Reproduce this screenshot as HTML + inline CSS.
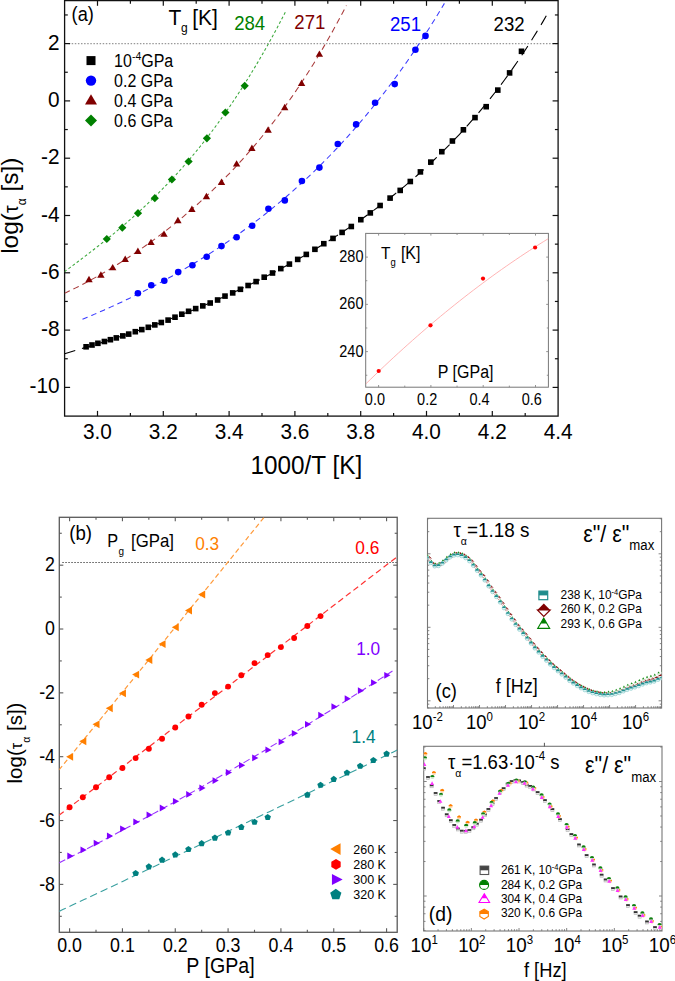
<!DOCTYPE html>
<html><head><meta charset="utf-8"><style>
html,body{margin:0;padding:0;background:#fff;}
body{width:675px;height:981px;overflow:hidden;}
svg{display:block;font-family:"Liberation Sans", sans-serif;}
</style></head><body>
<svg width="675" height="981" viewBox="0 0 675 981">
<rect width="675" height="981" fill="#fff"/>
<g>
<clipPath id="ca"><rect x="64.6" y="0.6" width="493.5" height="415.5"/></clipPath>
<line x1="68.6" y1="43.6" x2="558.1" y2="43.6" stroke="#999" stroke-width="1.4" stroke-dasharray="1.5,1.6"/>
<rect x="365.7" y="233.4" width="182.7" height="153.8" fill="#fff" stroke="#777" stroke-width="1"/>
<line x1="378.6" y1="387.2" x2="378.6" y2="385" stroke="#888" stroke-width="0.9" />
<line x1="378.6" y1="233.4" x2="378.6" y2="235.6" stroke="#888" stroke-width="0.9" />
<line x1="404.75" y1="387.2" x2="404.75" y2="385.6" stroke="#888" stroke-width="0.9" />
<line x1="404.75" y1="233.4" x2="404.75" y2="235" stroke="#888" stroke-width="0.9" />
<line x1="430.9" y1="387.2" x2="430.9" y2="385" stroke="#888" stroke-width="0.9" />
<line x1="430.9" y1="233.4" x2="430.9" y2="235.6" stroke="#888" stroke-width="0.9" />
<line x1="457.05" y1="387.2" x2="457.05" y2="385.6" stroke="#888" stroke-width="0.9" />
<line x1="457.05" y1="233.4" x2="457.05" y2="235" stroke="#888" stroke-width="0.9" />
<line x1="483.2" y1="387.2" x2="483.2" y2="385" stroke="#888" stroke-width="0.9" />
<line x1="483.2" y1="233.4" x2="483.2" y2="235.6" stroke="#888" stroke-width="0.9" />
<line x1="509.35" y1="387.2" x2="509.35" y2="385.6" stroke="#888" stroke-width="0.9" />
<line x1="509.35" y1="233.4" x2="509.35" y2="235" stroke="#888" stroke-width="0.9" />
<line x1="535.5" y1="387.2" x2="535.5" y2="385" stroke="#888" stroke-width="0.9" />
<line x1="535.5" y1="233.4" x2="535.5" y2="235.6" stroke="#888" stroke-width="0.9" />
<line x1="365.7" y1="375.25" x2="367.3" y2="375.25" stroke="#888" stroke-width="0.9" />
<line x1="548.4" y1="375.25" x2="546.8" y2="375.25" stroke="#888" stroke-width="0.9" />
<line x1="365.7" y1="351.62" x2="367.9" y2="351.62" stroke="#888" stroke-width="0.9" />
<line x1="548.4" y1="351.62" x2="546.2" y2="351.62" stroke="#888" stroke-width="0.9" />
<line x1="365.7" y1="327.99" x2="367.3" y2="327.99" stroke="#888" stroke-width="0.9" />
<line x1="548.4" y1="327.99" x2="546.8" y2="327.99" stroke="#888" stroke-width="0.9" />
<line x1="365.7" y1="304.36" x2="367.9" y2="304.36" stroke="#888" stroke-width="0.9" />
<line x1="548.4" y1="304.36" x2="546.2" y2="304.36" stroke="#888" stroke-width="0.9" />
<line x1="365.7" y1="280.73" x2="367.3" y2="280.73" stroke="#888" stroke-width="0.9" />
<line x1="548.4" y1="280.73" x2="546.8" y2="280.73" stroke="#888" stroke-width="0.9" />
<line x1="365.7" y1="257.1" x2="367.9" y2="257.1" stroke="#888" stroke-width="0.9" />
<line x1="548.4" y1="257.1" x2="546.2" y2="257.1" stroke="#888" stroke-width="0.9" />
<line x1="365.7" y1="233.47" x2="367.3" y2="233.47" stroke="#888" stroke-width="0.9" />
<line x1="548.4" y1="233.47" x2="546.8" y2="233.47" stroke="#888" stroke-width="0.9" />
<text x="374.9" y="371.56" transform="scale(1,1.09)" font-size="14.5" fill="#000" text-anchor="middle" >0.0</text>
<text x="427.2" y="371.56" transform="scale(1,1.09)" font-size="14.5" fill="#000" text-anchor="middle" >0.2</text>
<text x="479.5" y="371.56" transform="scale(1,1.09)" font-size="14.5" fill="#000" text-anchor="middle" >0.4</text>
<text x="531.8" y="371.56" transform="scale(1,1.09)" font-size="14.5" fill="#000" text-anchor="middle" >0.6</text>
<text x="363.5" y="327.27" transform="scale(1,1.09)" font-size="14.5" fill="#000" text-anchor="end" >240</text>
<text x="363.5" y="283.91" transform="scale(1,1.09)" font-size="14.5" fill="#000" text-anchor="end" >260</text>
<text x="363.5" y="240.55" transform="scale(1,1.09)" font-size="14.5" fill="#000" text-anchor="end" >280</text>
<g clip-path="url(#ci)">
<clipPath id="ci"><rect x="365.7" y="233.4" width="182.7" height="153.8"/></clipPath>
<path d="M365.7,384 L370.38,379.44 L375.07,374.92 L379.75,370.44 L384.44,366.01 L389.12,361.62 L393.81,357.28 L398.49,352.98 L403.18,348.72 L407.86,344.51 L412.55,340.34 L417.23,336.22 L421.92,332.14 L426.6,328.1 L431.28,324.11 L435.97,320.16 L440.65,316.26 L445.34,312.4 L450.02,308.58 L454.71,304.81 L459.39,301.08 L464.08,297.4 L468.76,293.76 L473.45,290.16 L478.13,286.61 L482.82,283.1 L487.5,279.63 L492.18,276.21 L496.87,272.84 L501.55,269.51 L506.24,266.22 L510.92,262.97 L515.61,259.77 L520.29,256.62 L524.98,253.5 L529.66,250.43 L534.35,247.41 L539.03,244.43 L543.72,241.49 L548.4,238.6" fill="none" stroke="#ffacac" stroke-width="0.9" />
</g>
<circle cx="378.7" cy="371" r="2.1" fill="#f00"/>
<circle cx="430.5" cy="325.3" r="2.1" fill="#f00"/>
<circle cx="483" cy="278.6" r="2.1" fill="#f00"/>
<circle cx="535.1" cy="247.5" r="2.1" fill="#f00"/>
<text x="381" y="237.43" transform="scale(1,1.09)" font-size="15.5" fill="#000" text-anchor="start" >T</text>
<text x="390.4" y="243.85" transform="scale(1,1.09)" font-size="9.5" fill="#000" text-anchor="start" >g</text>
<text x="400.9" y="237.43" transform="scale(1,1.09)" font-size="16" fill="#000" text-anchor="start" >[K]</text>
<text x="437.8" y="346.42" transform="scale(1,1.09)" font-size="16" fill="#000" text-anchor="start" >P [GPa]</text>
<rect x="64.6" y="0.6" width="493.5" height="415.5" fill="none" stroke="#111" stroke-width="1.3"/>
<line x1="97.5" y1="416.1" x2="97.5" y2="410.9" stroke="#111" stroke-width="1.2" />
<line x1="97.5" y1="0.6" x2="97.5" y2="5.8" stroke="#111" stroke-width="1.2" />
<line x1="130.4" y1="416.1" x2="130.4" y2="412.9" stroke="#111" stroke-width="1.2" />
<line x1="130.4" y1="0.6" x2="130.4" y2="3.8" stroke="#111" stroke-width="1.2" />
<line x1="163.3" y1="416.1" x2="163.3" y2="410.9" stroke="#111" stroke-width="1.2" />
<line x1="163.3" y1="0.6" x2="163.3" y2="5.8" stroke="#111" stroke-width="1.2" />
<line x1="196.2" y1="416.1" x2="196.2" y2="412.9" stroke="#111" stroke-width="1.2" />
<line x1="196.2" y1="0.6" x2="196.2" y2="3.8" stroke="#111" stroke-width="1.2" />
<line x1="229.1" y1="416.1" x2="229.1" y2="410.9" stroke="#111" stroke-width="1.2" />
<line x1="229.1" y1="0.6" x2="229.1" y2="5.8" stroke="#111" stroke-width="1.2" />
<line x1="262" y1="416.1" x2="262" y2="412.9" stroke="#111" stroke-width="1.2" />
<line x1="262" y1="0.6" x2="262" y2="3.8" stroke="#111" stroke-width="1.2" />
<line x1="294.9" y1="416.1" x2="294.9" y2="410.9" stroke="#111" stroke-width="1.2" />
<line x1="294.9" y1="0.6" x2="294.9" y2="5.8" stroke="#111" stroke-width="1.2" />
<line x1="327.8" y1="416.1" x2="327.8" y2="412.9" stroke="#111" stroke-width="1.2" />
<line x1="327.8" y1="0.6" x2="327.8" y2="3.8" stroke="#111" stroke-width="1.2" />
<line x1="360.7" y1="416.1" x2="360.7" y2="410.9" stroke="#111" stroke-width="1.2" />
<line x1="360.7" y1="0.6" x2="360.7" y2="5.8" stroke="#111" stroke-width="1.2" />
<line x1="393.6" y1="416.1" x2="393.6" y2="412.9" stroke="#111" stroke-width="1.2" />
<line x1="393.6" y1="0.6" x2="393.6" y2="3.8" stroke="#111" stroke-width="1.2" />
<line x1="426.5" y1="416.1" x2="426.5" y2="410.9" stroke="#111" stroke-width="1.2" />
<line x1="426.5" y1="0.6" x2="426.5" y2="5.8" stroke="#111" stroke-width="1.2" />
<line x1="459.4" y1="416.1" x2="459.4" y2="412.9" stroke="#111" stroke-width="1.2" />
<line x1="459.4" y1="0.6" x2="459.4" y2="3.8" stroke="#111" stroke-width="1.2" />
<line x1="492.3" y1="416.1" x2="492.3" y2="410.9" stroke="#111" stroke-width="1.2" />
<line x1="492.3" y1="0.6" x2="492.3" y2="5.8" stroke="#111" stroke-width="1.2" />
<line x1="525.2" y1="416.1" x2="525.2" y2="412.9" stroke="#111" stroke-width="1.2" />
<line x1="525.2" y1="0.6" x2="525.2" y2="3.8" stroke="#111" stroke-width="1.2" />
<line x1="64.6" y1="387.4" x2="70.1" y2="387.4" stroke="#111" stroke-width="1.2" />
<line x1="558.1" y1="387.4" x2="552.6" y2="387.4" stroke="#111" stroke-width="1.2" />
<line x1="64.6" y1="358.75" x2="67.8" y2="358.75" stroke="#111" stroke-width="1.2" />
<line x1="558.1" y1="358.75" x2="554.9" y2="358.75" stroke="#111" stroke-width="1.2" />
<line x1="64.6" y1="330.1" x2="70.1" y2="330.1" stroke="#111" stroke-width="1.2" />
<line x1="558.1" y1="330.1" x2="552.6" y2="330.1" stroke="#111" stroke-width="1.2" />
<line x1="64.6" y1="301.45" x2="67.8" y2="301.45" stroke="#111" stroke-width="1.2" />
<line x1="558.1" y1="301.45" x2="554.9" y2="301.45" stroke="#111" stroke-width="1.2" />
<line x1="64.6" y1="272.8" x2="70.1" y2="272.8" stroke="#111" stroke-width="1.2" />
<line x1="558.1" y1="272.8" x2="552.6" y2="272.8" stroke="#111" stroke-width="1.2" />
<line x1="64.6" y1="244.15" x2="67.8" y2="244.15" stroke="#111" stroke-width="1.2" />
<line x1="558.1" y1="244.15" x2="554.9" y2="244.15" stroke="#111" stroke-width="1.2" />
<line x1="64.6" y1="215.5" x2="70.1" y2="215.5" stroke="#111" stroke-width="1.2" />
<line x1="558.1" y1="215.5" x2="552.6" y2="215.5" stroke="#111" stroke-width="1.2" />
<line x1="64.6" y1="186.85" x2="67.8" y2="186.85" stroke="#111" stroke-width="1.2" />
<line x1="558.1" y1="186.85" x2="554.9" y2="186.85" stroke="#111" stroke-width="1.2" />
<line x1="64.6" y1="158.2" x2="70.1" y2="158.2" stroke="#111" stroke-width="1.2" />
<line x1="558.1" y1="158.2" x2="552.6" y2="158.2" stroke="#111" stroke-width="1.2" />
<line x1="64.6" y1="129.55" x2="67.8" y2="129.55" stroke="#111" stroke-width="1.2" />
<line x1="558.1" y1="129.55" x2="554.9" y2="129.55" stroke="#111" stroke-width="1.2" />
<line x1="64.6" y1="100.9" x2="70.1" y2="100.9" stroke="#111" stroke-width="1.2" />
<line x1="558.1" y1="100.9" x2="552.6" y2="100.9" stroke="#111" stroke-width="1.2" />
<line x1="64.6" y1="72.25" x2="67.8" y2="72.25" stroke="#111" stroke-width="1.2" />
<line x1="558.1" y1="72.25" x2="554.9" y2="72.25" stroke="#111" stroke-width="1.2" />
<line x1="64.6" y1="43.6" x2="70.1" y2="43.6" stroke="#111" stroke-width="1.2" />
<line x1="558.1" y1="43.6" x2="552.6" y2="43.6" stroke="#111" stroke-width="1.2" />
<line x1="64.6" y1="14.95" x2="67.8" y2="14.95" stroke="#111" stroke-width="1.2" />
<line x1="558.1" y1="14.95" x2="554.9" y2="14.95" stroke="#111" stroke-width="1.2" />
<text x="59.6" y="361.01" transform="scale(1,1.09)" font-size="20.8" fill="#000" text-anchor="end" >-10</text>
<text x="59.6" y="308.44" transform="scale(1,1.09)" font-size="20.8" fill="#000" text-anchor="end" >-8</text>
<text x="59.6" y="255.87" transform="scale(1,1.09)" font-size="20.8" fill="#000" text-anchor="end" >-6</text>
<text x="59.6" y="203.30" transform="scale(1,1.09)" font-size="20.8" fill="#000" text-anchor="end" >-4</text>
<text x="59.6" y="150.73" transform="scale(1,1.09)" font-size="20.8" fill="#000" text-anchor="end" >-2</text>
<text x="59.6" y="98.17" transform="scale(1,1.09)" font-size="20.8" fill="#000" text-anchor="end" >0</text>
<text x="59.6" y="45.60" transform="scale(1,1.09)" font-size="20.8" fill="#000" text-anchor="end" >2</text>
<text x="97.5" y="402.75" transform="scale(1,1.09)" font-size="20.8" fill="#000" text-anchor="middle" >3.0</text>
<text x="163.3" y="402.75" transform="scale(1,1.09)" font-size="20.8" fill="#000" text-anchor="middle" >3.2</text>
<text x="229.1" y="402.75" transform="scale(1,1.09)" font-size="20.8" fill="#000" text-anchor="middle" >3.4</text>
<text x="294.9" y="402.75" transform="scale(1,1.09)" font-size="20.8" fill="#000" text-anchor="middle" >3.6</text>
<text x="360.7" y="402.75" transform="scale(1,1.09)" font-size="20.8" fill="#000" text-anchor="middle" >3.8</text>
<text x="426.5" y="402.75" transform="scale(1,1.09)" font-size="20.8" fill="#000" text-anchor="middle" >4.0</text>
<text x="492.3" y="402.75" transform="scale(1,1.09)" font-size="20.8" fill="#000" text-anchor="middle" >4.2</text>
<text x="558.1" y="402.75" transform="scale(1,1.09)" font-size="20.8" fill="#000" text-anchor="middle" >4.4</text>
<text x="306.4" y="434.86" transform="scale(1,1.09)" font-size="24.3" fill="#000" text-anchor="middle" >1000/T [K]</text>
<text transform="translate(17.6,205.7) rotate(-90)" font-size="24.5" text-anchor="middle">log(<tspan font-size="19.5">τ</tspan><tspan font-size="12" dy="8.72">α</tspan><tspan dy="-8.72"> [s])</tspan></text>
<g clip-path="url(#ca)">
<path d="M64.7,353.67 L67.93,352.72 L71.16,351.76 L74.4,350.8 L77.63,349.83 L80.86,348.87 L84.09,347.89 L87.33,346.92 L90.56,345.93 L93.79,344.94 L97.02,343.95 L100.25,342.95 L103.49,341.94 L106.72,340.92 L109.95,339.9 L113.18,338.87 L116.42,337.83 L119.65,336.78 L122.88,335.72 L126.11,334.65 L129.34,333.57 L132.58,332.49 L135.81,331.39 L139.04,330.28 L142.27,329.16 L145.51,328.03 L148.74,326.89 L151.97,325.74 L155.2,324.57 L158.43,323.4 L161.67,322.21 L164.9,321.01 L168.13,319.8 L171.36,318.57 L174.6,317.34 L177.83,316.09 L181.06,314.82 L184.29,313.55 L187.52,312.26 L190.76,310.95 L193.99,309.64 L197.22,308.31 L200.45,306.96 L203.69,305.6 L206.92,304.23 L210.15,302.84 L213.38,301.44 L216.61,300.03 L219.85,298.6 L223.08,297.16 L226.31,295.7 L229.54,294.22 L232.78,292.73 L236.01,291.23 L239.24,289.71 L242.47,288.18 L245.7,286.63 L248.94,285.06 L252.17,283.48 L255.4,281.88 L258.63,280.27 L261.87,278.64 L265.1,276.99 L268.33,275.33 L271.56,273.65 L274.79,271.95 L278.03,270.23 L281.26,268.5 L284.49,266.75 L287.72,264.99 L290.96,263.2 L294.19,261.4 L297.42,259.57 L300.65,257.73 L303.88,255.87 L307.12,253.99 L310.35,252.09 L313.58,250.17 L316.81,248.23 L320.04,246.27 L323.28,244.29 L326.51,242.29 L329.74,240.27 L332.97,238.22 L336.21,236.15 L339.44,234.06 L342.67,231.94 L345.9,229.8 L349.13,227.64 L352.37,225.45 L355.6,223.24 L358.83,221 L362.06,218.73 L365.3,216.44 L368.53,214.11 L371.76,211.76 L374.99,209.39 L378.22,206.98 L381.46,204.54 L384.69,202.07 L387.92,199.57 L391.15,197.04 L394.39,194.47 L397.62,191.87 L400.85,189.24 L404.08,186.56 L407.31,183.86 L410.55,181.11 L413.78,178.33 L417.01,175.51 L420.24,172.65 L423.48,169.74 L426.71,166.8 L429.94,163.81 L433.17,160.77 L436.4,157.7 L439.64,154.57 L442.87,151.4 L446.1,148.17 L449.33,144.9 L452.57,141.58 L455.8,138.2 L459.03,134.77 L462.26,131.28 L465.49,127.74 L468.73,124.14 L471.96,120.47 L475.19,116.75 L478.42,112.96 L481.66,109.11 L484.89,105.2 L488.12,101.21 L491.35,97.16 L494.58,93.03 L497.82,88.84 L501.05,84.56 L504.28,80.22 L507.51,75.79 L510.75,71.28 L513.98,66.69 L517.21,62.02 L520.44,57.26 L523.67,52.41 L526.91,47.47 L530.14,42.44 L533.37,37.31 L536.6,32.09 L539.84,26.77 L543.07,21.35 L546.3,15.82" fill="none" stroke="#000" stroke-width="1.1" stroke-dasharray="11,7" />
<path d="M82.5,319.22 L84.93,318.22 L87.36,317.22 L89.79,316.2 L92.22,315.17 L94.64,314.14 L97.07,313.09 L99.5,312.04 L101.93,310.98 L104.36,309.9 L106.79,308.82 L109.22,307.73 L111.65,306.63 L114.08,305.53 L116.5,304.41 L118.93,303.28 L121.36,302.15 L123.79,301 L126.22,299.84 L128.65,298.68 L131.08,297.5 L133.51,296.32 L135.93,295.12 L138.36,293.92 L140.79,292.7 L143.22,291.48 L145.65,290.24 L148.08,289 L150.51,287.74 L152.94,286.47 L155.37,285.2 L157.79,283.91 L160.22,282.61 L162.65,281.3 L165.08,279.98 L167.51,278.65 L169.94,277.3 L172.37,275.95 L174.8,274.58 L177.23,273.2 L179.65,271.81 L182.08,270.41 L184.51,269 L186.94,267.57 L189.37,266.13 L191.8,264.68 L194.23,263.22 L196.66,261.74 L199.09,260.25 L201.51,258.75 L203.94,257.23 L206.37,255.7 L208.8,254.16 L211.23,252.6 L213.66,251.03 L216.09,249.45 L218.52,247.85 L220.94,246.24 L223.37,244.61 L225.8,242.97 L228.23,241.31 L230.66,239.63 L233.09,237.95 L235.52,236.24 L237.95,234.52 L240.38,232.79 L242.8,231.03 L245.23,229.26 L247.66,227.48 L250.09,225.68 L252.52,223.86 L254.95,222.02 L257.38,220.17 L259.81,218.3 L262.24,216.41 L264.66,214.5 L267.09,212.58 L269.52,210.63 L271.95,208.67 L274.38,206.69 L276.81,204.69 L279.24,202.67 L281.67,200.63 L284.1,198.56 L286.52,196.48 L288.95,194.38 L291.38,192.26 L293.81,190.12 L296.24,187.95 L298.67,185.77 L301.1,183.56 L303.53,181.33 L305.96,179.07 L308.38,176.8 L310.81,174.5 L313.24,172.18 L315.67,169.83 L318.1,167.47 L320.53,165.07 L322.96,162.66 L325.39,160.21 L327.81,157.75 L330.24,155.25 L332.67,152.74 L335.1,150.19 L337.53,147.62 L339.96,145.03 L342.39,142.4 L344.82,139.75 L347.25,137.07 L349.67,134.37 L352.1,131.63 L354.53,128.87 L356.96,126.08 L359.39,123.26 L361.82,120.41 L364.25,117.53 L366.68,114.62 L369.11,111.68 L371.53,108.71 L373.96,105.7 L376.39,102.67 L378.82,99.6 L381.25,96.5 L383.68,93.37 L386.11,90.21 L388.54,87.01 L390.97,83.78 L393.39,80.52 L395.82,77.22 L398.25,73.88 L400.68,70.51 L403.11,67.11 L405.54,63.66 L407.97,60.19 L410.4,56.67 L412.82,53.12 L415.25,49.53 L417.68,45.9 L420.11,42.23 L422.54,38.53 L424.97,34.78 L427.4,31 L429.83,27.18 L432.26,23.31 L434.68,19.41 L437.11,15.46 L439.54,11.47 L441.97,7.44 L444.4,3.37" fill="none" stroke="#3a3aff" stroke-width="1.05" stroke-dasharray="5.5,4" />
<path d="M64.4,293.37 L66.29,292.48 L68.19,291.58 L70.08,290.67 L71.97,289.75 L73.86,288.82 L75.76,287.87 L77.65,286.92 L79.54,285.95 L81.43,284.98 L83.33,283.99 L85.22,283 L87.11,281.99 L89,280.97 L90.9,279.95 L92.79,278.91 L94.68,277.86 L96.57,276.8 L98.47,275.73 L100.36,274.65 L102.25,273.56 L104.14,272.46 L106.04,271.35 L107.93,270.23 L109.82,269.09 L111.72,267.95 L113.61,266.8 L115.5,265.63 L117.39,264.46 L119.29,263.27 L121.18,262.08 L123.07,260.87 L124.96,259.66 L126.86,258.43 L128.75,257.19 L130.64,255.94 L132.53,254.68 L134.43,253.41 L136.32,252.13 L138.21,250.84 L140.1,249.53 L142,248.22 L143.89,246.89 L145.78,245.55 L147.68,244.2 L149.57,242.84 L151.46,241.47 L153.35,240.09 L155.25,238.69 L157.14,237.29 L159.03,235.87 L160.92,234.44 L162.82,232.99 L164.71,231.54 L166.6,230.07 L168.49,228.59 L170.39,227.1 L172.28,225.59 L174.17,224.08 L176.06,222.54 L177.96,221 L179.85,219.44 L181.74,217.87 L183.63,216.29 L185.53,214.69 L187.42,213.08 L189.31,211.45 L191.21,209.81 L193.1,208.16 L194.99,206.49 L196.88,204.81 L198.78,203.11 L200.67,201.4 L202.56,199.67 L204.45,197.93 L206.35,196.17 L208.24,194.39 L210.13,192.6 L212.02,190.8 L213.92,188.97 L215.81,187.14 L217.7,185.28 L219.59,183.41 L221.49,181.52 L223.38,179.61 L225.27,177.69 L227.17,175.74 L229.06,173.78 L230.95,171.81 L232.84,169.81 L234.74,167.79 L236.63,165.76 L238.52,163.71 L240.41,161.63 L242.31,159.54 L244.2,157.43 L246.09,155.3 L247.98,153.14 L249.88,150.97 L251.77,148.77 L253.66,146.56 L255.55,144.32 L257.45,142.06 L259.34,139.78 L261.23,137.48 L263.12,135.15 L265.02,132.8 L266.91,130.43 L268.8,128.04 L270.7,125.62 L272.59,123.17 L274.48,120.7 L276.37,118.21 L278.27,115.69 L280.16,113.15 L282.05,110.58 L283.94,107.99 L285.84,105.37 L287.73,102.72 L289.62,100.04 L291.51,97.34 L293.41,94.61 L295.3,91.86 L297.19,89.07 L299.08,86.26 L300.98,83.41 L302.87,80.54 L304.76,77.64 L306.66,74.7 L308.55,71.74 L310.44,68.74 L312.33,65.72 L314.23,62.66 L316.12,59.57 L318.01,56.45 L319.9,53.29 L321.8,50.11 L323.69,46.89 L325.58,43.63 L327.47,40.34 L329.37,37.02 L331.26,33.66 L333.15,30.26 L335.04,26.83 L336.94,23.36 L338.83,19.85 L340.72,16.31 L342.61,12.73 L344.51,9.11 L346.4,5.46" fill="none" stroke="#a83a3a" stroke-width="1.05" stroke-dasharray="6,4" />
<path d="M64.4,271.76 L65.89,270.65 L67.37,269.54 L68.86,268.43 L70.35,267.32 L71.84,266.21 L73.32,265.1 L74.81,263.98 L76.3,262.87 L77.79,261.75 L79.27,260.63 L80.76,259.5 L82.25,258.38 L83.73,257.25 L85.22,256.12 L86.71,254.98 L88.2,253.84 L89.68,252.7 L91.17,251.55 L92.66,250.4 L94.14,249.25 L95.63,248.09 L97.12,246.93 L98.61,245.76 L100.09,244.59 L101.58,243.41 L103.07,242.23 L104.56,241.04 L106.04,239.85 L107.53,238.65 L109.02,237.45 L110.5,236.24 L111.99,235.03 L113.48,233.8 L114.97,232.57 L116.45,231.34 L117.94,230.1 L119.43,228.85 L120.92,227.59 L122.4,226.33 L123.89,225.06 L125.38,223.78 L126.86,222.5 L128.35,221.21 L129.84,219.9 L131.33,218.6 L132.81,217.28 L134.3,215.95 L135.79,214.62 L137.28,213.27 L138.76,211.92 L140.25,210.56 L141.74,209.19 L143.22,207.81 L144.71,206.42 L146.2,205.02 L147.69,203.61 L149.17,202.19 L150.66,200.77 L152.15,199.33 L153.63,197.88 L155.12,196.42 L156.61,194.95 L158.1,193.46 L159.58,191.97 L161.07,190.47 L162.56,188.95 L164.05,187.43 L165.53,185.89 L167.02,184.34 L168.51,182.78 L169.99,181.2 L171.48,179.62 L172.97,178.02 L174.46,176.41 L175.94,174.78 L177.43,173.15 L178.92,171.5 L180.41,169.84 L181.89,168.16 L183.38,166.48 L184.87,164.77 L186.35,163.06 L187.84,161.33 L189.33,159.59 L190.82,157.83 L192.3,156.06 L193.79,154.28 L195.28,152.48 L196.77,150.67 L198.25,148.84 L199.74,147 L201.23,145.14 L202.71,143.27 L204.2,141.38 L205.69,139.48 L207.18,137.56 L208.66,135.63 L210.15,133.68 L211.64,131.71 L213.12,129.73 L214.61,127.73 L216.1,125.72 L217.59,123.69 L219.07,121.65 L220.56,119.59 L222.05,117.51 L223.54,115.42 L225.02,113.3 L226.51,111.18 L228,109.03 L229.48,106.87 L230.97,104.69 L232.46,102.49 L233.95,100.28 L235.43,98.04 L236.92,95.79 L238.41,93.53 L239.9,91.24 L241.38,88.94 L242.87,86.61 L244.36,84.27 L245.84,81.91 L247.33,79.54 L248.82,77.14 L250.31,74.73 L251.79,72.29 L253.28,69.84 L254.77,67.37 L256.26,64.88 L257.74,62.37 L259.23,59.84 L260.72,57.29 L262.2,54.72 L263.69,52.13 L265.18,49.53 L266.67,46.9 L268.15,44.25 L269.64,41.58 L271.13,38.89 L272.61,36.19 L274.1,33.46 L275.59,30.71 L277.08,27.94 L278.56,25.15 L280.05,22.34 L281.54,19.5 L283.03,16.65 L284.51,13.78 L286,10.88" fill="none" stroke="#3aa83a" stroke-width="1.05" stroke-dasharray="2.8,2.3" />
</g>
<rect x="83.3" y="344" width="5.6" height="5.6" fill="#000"/>
<rect x="89.2" y="342.2" width="5.6" height="5.6" fill="#000"/>
<rect x="95.1" y="340.5" width="5.6" height="5.6" fill="#000"/>
<rect x="101.6" y="338.7" width="5.6" height="5.6" fill="#000"/>
<rect x="107.6" y="336.9" width="5.6" height="5.6" fill="#000"/>
<rect x="113.5" y="335.1" width="5.6" height="5.6" fill="#000"/>
<rect x="120" y="333.1" width="5.6" height="5.6" fill="#000"/>
<rect x="125.9" y="331.3" width="5.6" height="5.6" fill="#000"/>
<rect x="132.5" y="328.9" width="5.6" height="5.6" fill="#000"/>
<rect x="139" y="326.8" width="5.6" height="5.6" fill="#000"/>
<rect x="145.5" y="324.5" width="5.6" height="5.6" fill="#000"/>
<rect x="152" y="322.1" width="5.6" height="5.6" fill="#000"/>
<rect x="158.5" y="319.7" width="5.6" height="5.6" fill="#000"/>
<rect x="165.3" y="317.3" width="5.6" height="5.6" fill="#000"/>
<rect x="172.2" y="314.4" width="5.6" height="5.6" fill="#000"/>
<rect x="179" y="311.4" width="5.6" height="5.6" fill="#000"/>
<rect x="185.8" y="308.5" width="5.6" height="5.6" fill="#000"/>
<rect x="192.9" y="305.8" width="5.6" height="5.6" fill="#000"/>
<rect x="200" y="303.1" width="5.6" height="5.6" fill="#000"/>
<rect x="207.4" y="300.2" width="5.6" height="5.6" fill="#000"/>
<rect x="214.8" y="297.2" width="5.6" height="5.6" fill="#000"/>
<rect x="222.2" y="293.3" width="5.6" height="5.6" fill="#000"/>
<rect x="229.9" y="290.1" width="5.6" height="5.6" fill="#000"/>
<rect x="237.6" y="286.5" width="5.6" height="5.6" fill="#000"/>
<rect x="245.3" y="282.7" width="5.6" height="5.6" fill="#000"/>
<rect x="253.3" y="278.8" width="5.6" height="5.6" fill="#000"/>
<rect x="261.4" y="274.4" width="5.6" height="5.6" fill="#000"/>
<rect x="269.7" y="270.2" width="5.6" height="5.6" fill="#000"/>
<rect x="278" y="265.8" width="5.6" height="5.6" fill="#000"/>
<rect x="286.6" y="261.3" width="5.6" height="5.6" fill="#000"/>
<rect x="294.9" y="256.6" width="5.6" height="5.6" fill="#000"/>
<rect x="303.5" y="251.6" width="5.6" height="5.6" fill="#000"/>
<rect x="312.1" y="246.5" width="5.6" height="5.6" fill="#000"/>
<rect x="321" y="240.9" width="5.6" height="5.6" fill="#000"/>
<rect x="330.2" y="235.6" width="5.6" height="5.6" fill="#000"/>
<rect x="339.3" y="229.6" width="5.6" height="5.6" fill="#000"/>
<rect x="348.5" y="223.7" width="5.6" height="5.6" fill="#000"/>
<rect x="358" y="216.9" width="5.6" height="5.6" fill="#000"/>
<rect x="367.5" y="210.1" width="5.6" height="5.6" fill="#000"/>
<rect x="377.3" y="202.7" width="5.6" height="5.6" fill="#000"/>
<rect x="387.3" y="195.3" width="5.6" height="5.6" fill="#000"/>
<rect x="397.4" y="187.6" width="5.6" height="5.6" fill="#000"/>
<rect x="407.5" y="178.7" width="5.6" height="5.6" fill="#000"/>
<rect x="417.6" y="169.1" width="5.6" height="5.6" fill="#000"/>
<rect x="428" y="159.3" width="5.6" height="5.6" fill="#000"/>
<rect x="439" y="148.9" width="5.6" height="5.6" fill="#000"/>
<rect x="449.6" y="138.2" width="5.6" height="5.6" fill="#000"/>
<rect x="460.6" y="127" width="5.6" height="5.6" fill="#000"/>
<rect x="472.2" y="114.8" width="5.6" height="5.6" fill="#000"/>
<rect x="483.4" y="103.9" width="5.6" height="5.6" fill="#000"/>
<rect x="495" y="87.3" width="5.6" height="5.6" fill="#000"/>
<rect x="506.8" y="70.1" width="5.6" height="5.6" fill="#000"/>
<rect x="518.7" y="48.5" width="5.6" height="5.6" fill="#000"/>
<circle cx="137.9" cy="293.2" r="3.3" fill="#0000ff"/>
<circle cx="151.3" cy="285.2" r="3.3" fill="#0000ff"/>
<circle cx="164.3" cy="280.7" r="3.3" fill="#0000ff"/>
<circle cx="178.2" cy="272.1" r="3.3" fill="#0000ff"/>
<circle cx="192.4" cy="265.3" r="3.3" fill="#0000ff"/>
<circle cx="206.7" cy="256.7" r="3.3" fill="#0000ff"/>
<circle cx="221.5" cy="246.1" r="3.3" fill="#0000ff"/>
<circle cx="236.6" cy="237.2" r="3.3" fill="#0000ff"/>
<circle cx="252.2" cy="225.7" r="3.3" fill="#0000ff"/>
<circle cx="268.4" cy="208.8" r="3.3" fill="#0000ff"/>
<circle cx="284.8" cy="200.4" r="3.3" fill="#0000ff"/>
<circle cx="301.9" cy="181" r="3.3" fill="#0000ff"/>
<circle cx="319.4" cy="167.6" r="3.3" fill="#0000ff"/>
<circle cx="337.8" cy="144" r="3.3" fill="#0000ff"/>
<circle cx="356.1" cy="124.4" r="3.3" fill="#0000ff"/>
<circle cx="375.1" cy="102.8" r="3.3" fill="#0000ff"/>
<circle cx="394.7" cy="84.1" r="3.3" fill="#0000ff"/>
<circle cx="415.4" cy="49.8" r="3.3" fill="#0000ff"/>
<circle cx="425.5" cy="35.9" r="3.3" fill="#0000ff"/>
<polygon points="85.3,282.2 92.7,282.2 89,275.8" fill="#800000" />
<polygon points="97.2,277.7 104.6,277.7 100.9,271.3" fill="#800000" />
<polygon points="109,270.3 116.4,270.3 112.7,263.9" fill="#800000" />
<polygon points="121.5,262 128.9,262 125.2,255.6" fill="#800000" />
<polygon points="134.2,254 141.6,254 137.9,247.6" fill="#800000" />
<polygon points="147.3,245.1 154.7,245.1 151,238.7" fill="#800000" />
<polygon points="160.3,236.8 167.7,236.8 164,230.4" fill="#800000" />
<polygon points="174.2,223.2 181.6,223.2 177.9,216.8" fill="#800000" />
<polygon points="188.2,211.9 195.6,211.9 191.9,205.5" fill="#800000" />
<polygon points="202.7,199.2 210.1,199.2 206.4,192.8" fill="#800000" />
<polygon points="217.8,185 225.2,185 221.5,178.6" fill="#800000" />
<polygon points="232.9,166.6 240.3,166.6 236.6,160.2" fill="#800000" />
<polygon points="248.2,151 255.6,151 251.9,144.6" fill="#800000" />
<polygon points="264.4,132.7 271.8,132.7 268.1,126.3" fill="#800000" />
<polygon points="281,110.2 288.4,110.2 284.7,103.8" fill="#800000" />
<polygon points="297.9,85.9 305.3,85.9 301.6,79.5" fill="#800000" />
<polygon points="315.7,56.8 323.1,56.8 319.4,50.4" fill="#800000" />
<polygon points="106.8,234.9 110.9,239 106.8,243.1 102.7,239" fill="#008000" />
<polygon points="122.3,223.6 126.4,227.7 122.3,231.8 118.2,227.7" fill="#008000" />
<polygon points="138,209.1 142.1,213.2 138,217.3 133.9,213.2" fill="#008000" />
<polygon points="154.8,194.1 158.9,198.2 154.8,202.3 150.7,198.2" fill="#008000" />
<polygon points="171.9,175.4 176,179.5 171.9,183.6 167.8,179.5" fill="#008000" />
<polygon points="188.6,157.4 192.7,161.5 188.6,165.6 184.5,161.5" fill="#008000" />
<polygon points="206.9,134.2 211,138.3 206.9,142.4 202.8,138.3" fill="#008000" />
<polygon points="225.4,108.4 229.5,112.5 225.4,116.6 221.3,112.5" fill="#008000" />
<polygon points="244.7,81.7 248.8,85.8 244.7,89.9 240.6,85.8" fill="#008000" />
<rect x="86.5" y="56.1" width="9" height="9" fill="#000"/>
<circle cx="91" cy="80.6" r="5.2" fill="#0000ff"/>
<polygon points="85,104.55 97,104.55 91,94.25" fill="#800000" />
<polygon points="91,114.6 97,120.6 91,126.6 85,120.6" fill="#008000" />
<text x="114.1" y="61.10" transform="scale(1,1.09)" font-size="16">10<tspan font-size="10.5" dy="-5.96">-4</tspan><tspan dy="5.96">GPa</tspan></text>
<text x="114.1" y="79.45" transform="scale(1,1.09)" font-size="16" fill="#000" text-anchor="start" >0.2 GPa</text>
<text x="114.1" y="97.80" transform="scale(1,1.09)" font-size="16" fill="#000" text-anchor="start" >0.4 GPa</text>
<text x="114.1" y="116.15" transform="scale(1,1.09)" font-size="16" fill="#000" text-anchor="start" >0.6 GPa</text>
<text x="71.6" y="18.90" transform="scale(1,1.09)" font-size="18.2" fill="#000" text-anchor="start" >(a)</text>
<text x="168.4" y="22.57" transform="scale(1,1.09)" font-size="21" fill="#000" text-anchor="start" >T</text>
<text x="181" y="29.72" transform="scale(1,1.09)" font-size="12" fill="#000" text-anchor="start" >g</text>
<text x="192.2" y="22.57" transform="scale(1,1.09)" font-size="21" fill="#000" text-anchor="start" >[K]</text>
<text x="234.2" y="27.80" transform="scale(1,1.09)" font-size="18.6" fill="#008000" text-anchor="start" >284</text>
<text x="294.3" y="26.51" transform="scale(1,1.09)" font-size="18.6" fill="#800000" text-anchor="start" >271</text>
<text x="390" y="28.35" transform="scale(1,1.09)" font-size="18.6" fill="#0000ff" text-anchor="start" >251</text>
<text x="493.6" y="28.62" transform="scale(1,1.09)" font-size="18.6" fill="#000" text-anchor="start" >232</text>
</g>
<clipPath id="cb"><rect x="59.3" y="517.3" width="337.9" height="415"/></clipPath>
<line x1="62.3" y1="562.5" x2="397.2" y2="562.5" stroke="#555" stroke-width="1" stroke-dasharray="1.5,1.5"/>
<rect x="59.3" y="517.3" width="337.9" height="415" fill="none" stroke="#5a5a5a" stroke-width="1.3"/>
<line x1="69.6" y1="932.3" x2="69.6" y2="928.3" stroke="#5a5a5a" stroke-width="1.1" />
<line x1="69.6" y1="517.3" x2="69.6" y2="521.3" stroke="#5a5a5a" stroke-width="1.1" />
<line x1="96.01" y1="932.3" x2="96.01" y2="929.8" stroke="#5a5a5a" stroke-width="1.1" />
<line x1="96.01" y1="517.3" x2="96.01" y2="519.8" stroke="#5a5a5a" stroke-width="1.1" />
<line x1="122.43" y1="932.3" x2="122.43" y2="928.3" stroke="#5a5a5a" stroke-width="1.1" />
<line x1="122.43" y1="517.3" x2="122.43" y2="521.3" stroke="#5a5a5a" stroke-width="1.1" />
<line x1="148.84" y1="932.3" x2="148.84" y2="929.8" stroke="#5a5a5a" stroke-width="1.1" />
<line x1="148.84" y1="517.3" x2="148.84" y2="519.8" stroke="#5a5a5a" stroke-width="1.1" />
<line x1="175.26" y1="932.3" x2="175.26" y2="928.3" stroke="#5a5a5a" stroke-width="1.1" />
<line x1="175.26" y1="517.3" x2="175.26" y2="521.3" stroke="#5a5a5a" stroke-width="1.1" />
<line x1="201.67" y1="932.3" x2="201.67" y2="929.8" stroke="#5a5a5a" stroke-width="1.1" />
<line x1="201.67" y1="517.3" x2="201.67" y2="519.8" stroke="#5a5a5a" stroke-width="1.1" />
<line x1="228.09" y1="932.3" x2="228.09" y2="928.3" stroke="#5a5a5a" stroke-width="1.1" />
<line x1="228.09" y1="517.3" x2="228.09" y2="521.3" stroke="#5a5a5a" stroke-width="1.1" />
<line x1="254.5" y1="932.3" x2="254.5" y2="929.8" stroke="#5a5a5a" stroke-width="1.1" />
<line x1="254.5" y1="517.3" x2="254.5" y2="519.8" stroke="#5a5a5a" stroke-width="1.1" />
<line x1="280.92" y1="932.3" x2="280.92" y2="928.3" stroke="#5a5a5a" stroke-width="1.1" />
<line x1="280.92" y1="517.3" x2="280.92" y2="521.3" stroke="#5a5a5a" stroke-width="1.1" />
<line x1="307.33" y1="932.3" x2="307.33" y2="929.8" stroke="#5a5a5a" stroke-width="1.1" />
<line x1="307.33" y1="517.3" x2="307.33" y2="519.8" stroke="#5a5a5a" stroke-width="1.1" />
<line x1="333.75" y1="932.3" x2="333.75" y2="928.3" stroke="#5a5a5a" stroke-width="1.1" />
<line x1="333.75" y1="517.3" x2="333.75" y2="521.3" stroke="#5a5a5a" stroke-width="1.1" />
<line x1="360.16" y1="932.3" x2="360.16" y2="929.8" stroke="#5a5a5a" stroke-width="1.1" />
<line x1="360.16" y1="517.3" x2="360.16" y2="519.8" stroke="#5a5a5a" stroke-width="1.1" />
<line x1="386.58" y1="932.3" x2="386.58" y2="928.3" stroke="#5a5a5a" stroke-width="1.1" />
<line x1="386.58" y1="517.3" x2="386.58" y2="521.3" stroke="#5a5a5a" stroke-width="1.1" />
<line x1="59.3" y1="916.3" x2="61.8" y2="916.3" stroke="#5a5a5a" stroke-width="1.1" />
<line x1="397.2" y1="916.3" x2="394.7" y2="916.3" stroke="#5a5a5a" stroke-width="1.1" />
<line x1="59.3" y1="884.38" x2="63.3" y2="884.38" stroke="#5a5a5a" stroke-width="1.1" />
<line x1="397.2" y1="884.38" x2="393.2" y2="884.38" stroke="#5a5a5a" stroke-width="1.1" />
<line x1="59.3" y1="852.46" x2="61.8" y2="852.46" stroke="#5a5a5a" stroke-width="1.1" />
<line x1="397.2" y1="852.46" x2="394.7" y2="852.46" stroke="#5a5a5a" stroke-width="1.1" />
<line x1="59.3" y1="820.54" x2="63.3" y2="820.54" stroke="#5a5a5a" stroke-width="1.1" />
<line x1="397.2" y1="820.54" x2="393.2" y2="820.54" stroke="#5a5a5a" stroke-width="1.1" />
<line x1="59.3" y1="788.62" x2="61.8" y2="788.62" stroke="#5a5a5a" stroke-width="1.1" />
<line x1="397.2" y1="788.62" x2="394.7" y2="788.62" stroke="#5a5a5a" stroke-width="1.1" />
<line x1="59.3" y1="756.7" x2="63.3" y2="756.7" stroke="#5a5a5a" stroke-width="1.1" />
<line x1="397.2" y1="756.7" x2="393.2" y2="756.7" stroke="#5a5a5a" stroke-width="1.1" />
<line x1="59.3" y1="724.78" x2="61.8" y2="724.78" stroke="#5a5a5a" stroke-width="1.1" />
<line x1="397.2" y1="724.78" x2="394.7" y2="724.78" stroke="#5a5a5a" stroke-width="1.1" />
<line x1="59.3" y1="692.86" x2="63.3" y2="692.86" stroke="#5a5a5a" stroke-width="1.1" />
<line x1="397.2" y1="692.86" x2="393.2" y2="692.86" stroke="#5a5a5a" stroke-width="1.1" />
<line x1="59.3" y1="660.94" x2="61.8" y2="660.94" stroke="#5a5a5a" stroke-width="1.1" />
<line x1="397.2" y1="660.94" x2="394.7" y2="660.94" stroke="#5a5a5a" stroke-width="1.1" />
<line x1="59.3" y1="629.02" x2="63.3" y2="629.02" stroke="#5a5a5a" stroke-width="1.1" />
<line x1="397.2" y1="629.02" x2="393.2" y2="629.02" stroke="#5a5a5a" stroke-width="1.1" />
<line x1="59.3" y1="597.1" x2="61.8" y2="597.1" stroke="#5a5a5a" stroke-width="1.1" />
<line x1="397.2" y1="597.1" x2="394.7" y2="597.1" stroke="#5a5a5a" stroke-width="1.1" />
<line x1="59.3" y1="565.18" x2="63.3" y2="565.18" stroke="#5a5a5a" stroke-width="1.1" />
<line x1="397.2" y1="565.18" x2="393.2" y2="565.18" stroke="#5a5a5a" stroke-width="1.1" />
<line x1="59.3" y1="533.26" x2="61.8" y2="533.26" stroke="#5a5a5a" stroke-width="1.1" />
<line x1="397.2" y1="533.26" x2="394.7" y2="533.26" stroke="#5a5a5a" stroke-width="1.1" />
<text x="55" y="817.14" transform="scale(1,1.09)" font-size="17.8" fill="#000" text-anchor="end" >-8</text>
<text x="55" y="758.57" transform="scale(1,1.09)" font-size="17.8" fill="#000" text-anchor="end" >-6</text>
<text x="55" y="700.00" transform="scale(1,1.09)" font-size="17.8" fill="#000" text-anchor="end" >-4</text>
<text x="55" y="641.43" transform="scale(1,1.09)" font-size="17.8" fill="#000" text-anchor="end" >-2</text>
<text x="55" y="582.86" transform="scale(1,1.09)" font-size="17.8" fill="#000" text-anchor="end" >0</text>
<text x="55" y="524.29" transform="scale(1,1.09)" font-size="17.8" fill="#000" text-anchor="end" >2</text>
<text x="69.6" y="873.21" transform="scale(1,1.09)" font-size="17.8" fill="#000" text-anchor="middle" >0.0</text>
<text x="122.43" y="873.21" transform="scale(1,1.09)" font-size="17.8" fill="#000" text-anchor="middle" >0.1</text>
<text x="175.26" y="873.21" transform="scale(1,1.09)" font-size="17.8" fill="#000" text-anchor="middle" >0.2</text>
<text x="228.09" y="873.21" transform="scale(1,1.09)" font-size="17.8" fill="#000" text-anchor="middle" >0.3</text>
<text x="280.92" y="873.21" transform="scale(1,1.09)" font-size="17.8" fill="#000" text-anchor="middle" >0.4</text>
<text x="333.75" y="873.21" transform="scale(1,1.09)" font-size="17.8" fill="#000" text-anchor="middle" >0.5</text>
<text x="386.58" y="873.21" transform="scale(1,1.09)" font-size="17.8" fill="#000" text-anchor="middle" >0.6</text>
<text x="220.5" y="892.84" transform="scale(1,1.09)" font-size="19.6" fill="#000" text-anchor="middle" >P [GPa]</text>
<text transform="translate(22.2,743) rotate(-90)" font-size="20.5" text-anchor="middle">log(<tspan font-size="16.4">τ</tspan><tspan font-size="10.5" dy="7.34">α</tspan><tspan dy="-7.34"> [s])</tspan></text>
<text x="69.3" y="495.87" transform="scale(1,1.09)" font-size="18.6" fill="#000" text-anchor="start" >(b)</text>
<text x="107.2" y="502.20" transform="scale(1,1.09)" font-size="16.3" fill="#000" text-anchor="start" >P</text>
<text x="118.4" y="508.99" transform="scale(1,1.09)" font-size="10" fill="#000" text-anchor="start" >g</text>
<text x="131" y="502.11" transform="scale(1,1.09)" font-size="16.8" fill="#000" text-anchor="start" >[GPa]</text>
<text x="207.2" y="504.86" transform="scale(1,1.09)" font-size="17.3" fill="#ff7f00" text-anchor="middle" >0.3</text>
<text x="367.3" y="508.26" transform="scale(1,1.09)" font-size="17.3" fill="#ff0000" text-anchor="middle" >0.6</text>
<text x="368.2" y="600.73" transform="scale(1,1.09)" font-size="17.3" fill="#8000ff" text-anchor="middle" >1.0</text>
<text x="363.6" y="681.56" transform="scale(1,1.09)" font-size="17.3" fill="#008080" text-anchor="middle" >1.4</text>
<g clip-path="url(#cb)">
<path d="M59,769.91 L61.67,766.64 L64.34,763.38 L67.01,760.11 L69.68,756.85 L72.35,753.58 L75.03,750.32 L77.7,747.05 L80.37,743.78 L83.04,740.51 L85.71,737.24 L88.38,733.97 L91.05,730.7 L93.72,727.43 L96.39,724.16 L99.06,720.88 L101.73,717.61 L104.41,714.34 L107.08,711.06 L109.75,707.78 L112.42,704.51 L115.09,701.23 L117.76,697.95 L120.43,694.67 L123.1,691.39 L125.77,688.11 L128.44,684.83 L131.11,681.55 L133.78,678.27 L136.46,674.99 L139.13,671.7 L141.8,668.42 L144.47,665.13 L147.14,661.85 L149.81,658.56 L152.48,655.27 L155.15,651.98 L157.82,648.7 L160.49,645.41 L163.16,642.12 L165.84,638.82 L168.51,635.53 L171.18,632.24 L173.85,628.95 L176.52,625.65 L179.19,622.36 L181.86,619.06 L184.53,615.77 L187.2,612.47 L189.87,609.17 L192.54,605.88 L195.22,602.58 L197.89,599.28 L200.56,595.98 L203.23,592.68 L205.9,589.38 L208.57,586.07 L211.24,582.77 L213.91,579.47 L216.58,576.16 L219.25,572.86 L221.92,569.55 L224.59,566.25 L227.27,562.94 L229.94,559.63 L232.61,556.32 L235.28,553.01 L237.95,549.7 L240.62,546.39 L243.29,543.08 L245.96,539.77 L248.63,536.45 L251.3,533.14 L253.97,529.83 L256.65,526.51 L259.32,523.2 L261.99,519.88 L264.66,516.56 L267.33,513.24 L270,509.93" fill="none" stroke="#ff9a3a" stroke-width="1.2" stroke-dasharray="5,3" />
<path d="M59,815.29 L63.32,812.01 L67.63,808.72 L71.95,805.43 L76.27,802.14 L80.58,798.86 L84.9,795.57 L89.22,792.28 L93.53,788.99 L97.85,785.7 L102.16,782.41 L106.48,779.12 L110.8,775.83 L115.11,772.54 L119.43,769.25 L123.75,765.96 L128.06,762.67 L132.38,759.38 L136.7,756.09 L141.01,752.79 L145.33,749.5 L149.65,746.21 L153.96,742.91 L158.28,739.62 L162.59,736.32 L166.91,733.03 L171.23,729.73 L175.54,726.44 L179.86,723.14 L184.18,719.85 L188.49,716.55 L192.81,713.25 L197.13,709.96 L201.44,706.66 L205.76,703.36 L210.08,700.06 L214.39,696.77 L218.71,693.47 L223.03,690.17 L227.34,686.87 L231.66,683.57 L235.97,680.27 L240.29,676.97 L244.61,673.67 L248.92,670.37 L253.24,667.06 L257.56,663.76 L261.87,660.46 L266.19,657.16 L270.51,653.85 L274.82,650.55 L279.14,647.25 L283.46,643.94 L287.77,640.64 L292.09,637.34 L296.41,634.03 L300.72,630.72 L305.04,627.42 L309.35,624.11 L313.67,620.81 L317.99,617.5 L322.3,614.19 L326.62,610.89 L330.94,607.58 L335.25,604.27 L339.57,600.96 L343.89,597.65 L348.2,594.34 L352.52,591.03 L356.84,587.72 L361.15,584.41 L365.47,581.1 L369.78,577.79 L374.1,574.48 L378.42,571.17 L382.73,567.86 L387.05,564.55 L391.37,561.23 L395.68,557.92 L400,554.61" fill="none" stroke="#ff3333" stroke-width="1.2" stroke-dasharray="6,3.5" />
<path d="M59,862.99 L63.22,860.86 L67.44,858.73 L71.66,856.59 L75.89,854.45 L80.11,852.29 L84.33,850.13 L88.55,847.96 L92.77,845.78 L96.99,843.6 L101.22,841.4 L105.44,839.2 L109.66,836.99 L113.88,834.78 L118.1,832.55 L122.32,830.32 L126.54,828.08 L130.77,825.83 L134.99,823.57 L139.21,821.3 L143.43,819.03 L147.65,816.75 L151.87,814.46 L156.09,812.17 L160.32,809.86 L164.54,807.55 L168.76,805.23 L172.98,802.9 L177.2,800.56 L181.42,798.22 L185.65,795.87 L189.87,793.51 L194.09,791.14 L198.31,788.77 L202.53,786.38 L206.75,783.99 L210.97,781.59 L215.2,779.18 L219.42,776.77 L223.64,774.35 L227.86,771.92 L232.08,769.48 L236.3,767.03 L240.53,764.58 L244.75,762.11 L248.97,759.64 L253.19,757.16 L257.41,754.68 L261.63,752.18 L265.85,749.68 L270.08,747.17 L274.3,744.65 L278.52,742.13 L282.74,739.59 L286.96,737.05 L291.18,734.5 L295.41,731.95 L299.63,729.38 L303.85,726.81 L308.07,724.23 L312.29,721.64 L316.51,719.04 L320.73,716.44 L324.96,713.82 L329.18,711.2 L333.4,708.57 L337.62,705.94 L341.84,703.29 L346.06,700.64 L350.28,697.98 L354.51,695.31 L358.73,692.64 L362.95,689.95 L367.17,687.26 L371.39,684.56 L375.61,681.86 L379.84,679.14 L384.06,676.42 L388.28,673.69 L392.5,670.95" fill="none" stroke="#9933ff" stroke-width="1.1" stroke-dasharray="7,3.5" />
<path d="M59,911.38 L63.28,909.37 L67.56,907.36 L71.84,905.35 L76.12,903.33 L80.41,901.32 L84.69,899.3 L88.97,897.29 L93.25,895.27 L97.53,893.25 L101.81,891.24 L106.09,889.22 L110.37,887.2 L114.65,885.18 L118.93,883.16 L123.22,881.13 L127.5,879.11 L131.78,877.09 L136.06,875.06 L140.34,873.04 L144.62,871.01 L148.9,868.99 L153.18,866.96 L157.46,864.93 L161.74,862.9 L166.03,860.87 L170.31,858.84 L174.59,856.81 L178.87,854.78 L183.15,852.75 L187.43,850.71 L191.71,848.68 L195.99,846.64 L200.27,844.61 L204.55,842.57 L208.84,840.53 L213.12,838.49 L217.4,836.45 L221.68,834.42 L225.96,832.37 L230.24,830.33 L234.52,828.29 L238.8,826.25 L243.08,824.2 L247.36,822.16 L251.65,820.11 L255.93,818.07 L260.21,816.02 L264.49,813.97 L268.77,811.93 L273.05,809.88 L277.33,807.83 L281.61,805.78 L285.89,803.73 L290.17,801.67 L294.46,799.62 L298.74,797.57 L303.02,795.51 L307.3,793.46 L311.58,791.4 L315.86,789.34 L320.14,787.29 L324.42,785.23 L328.7,783.17 L332.98,781.11 L337.27,779.05 L341.55,776.99 L345.83,774.92 L350.11,772.86 L354.39,770.8 L358.67,768.73 L362.95,766.67 L367.23,764.6 L371.51,762.53 L375.79,760.47 L380.08,758.4 L384.36,756.33 L388.64,754.26 L392.92,752.19 L397.2,750.12" fill="none" stroke="#3aa0a0" stroke-width="1.1" stroke-dasharray="7.5,4" />
</g>
<polygon points="73.1,752.9 73.1,760.7 66.1,756.8" fill="#ff7f00" />
<polygon points="86.31,737.4 86.31,745.2 79.31,741.3" fill="#ff7f00" />
<polygon points="99.51,720.4 99.51,728.2 92.51,724.3" fill="#ff7f00" />
<polygon points="112.72,704.4 112.72,712.2 105.72,708.3" fill="#ff7f00" />
<polygon points="125.93,689.4 125.93,697.2 118.93,693.3" fill="#ff7f00" />
<polygon points="139.14,670.7 139.14,678.5 132.14,674.6" fill="#ff7f00" />
<polygon points="152.34,656.1 152.34,663.9 145.34,660" fill="#ff7f00" />
<polygon points="165.55,640.2 165.55,648 158.55,644.1" fill="#ff7f00" />
<polygon points="178.76,623.4 178.76,631.2 171.76,627.3" fill="#ff7f00" />
<polygon points="191.97,606.6 191.97,614.4 184.97,610.5" fill="#ff7f00" />
<polygon points="205.17,590.6 205.17,598.4 198.17,594.5" fill="#ff7f00" />
<circle cx="69.6" cy="807.2" r="2.95" fill="#ff0000"/>
<circle cx="82.81" cy="797.3" r="2.95" fill="#ff0000"/>
<circle cx="96.01" cy="787.3" r="2.95" fill="#ff0000"/>
<circle cx="109.22" cy="777.3" r="2.95" fill="#ff0000"/>
<circle cx="122.43" cy="768" r="2.95" fill="#ff0000"/>
<circle cx="135.64" cy="758.1" r="2.95" fill="#ff0000"/>
<circle cx="148.84" cy="748.8" r="2.95" fill="#ff0000"/>
<circle cx="162.05" cy="738.7" r="2.95" fill="#ff0000"/>
<circle cx="175.26" cy="727.5" r="2.95" fill="#ff0000"/>
<circle cx="188.47" cy="716.5" r="2.95" fill="#ff0000"/>
<circle cx="201.67" cy="704.8" r="2.95" fill="#ff0000"/>
<circle cx="214.88" cy="693.1" r="2.95" fill="#ff0000"/>
<circle cx="228.09" cy="686.6" r="2.95" fill="#ff0000"/>
<circle cx="241.3" cy="675.3" r="2.95" fill="#ff0000"/>
<circle cx="254.5" cy="663.1" r="2.95" fill="#ff0000"/>
<circle cx="267.71" cy="655.1" r="2.95" fill="#ff0000"/>
<circle cx="280.92" cy="647.1" r="2.95" fill="#ff0000"/>
<circle cx="294.13" cy="638" r="2.95" fill="#ff0000"/>
<circle cx="307.33" cy="626" r="2.95" fill="#ff0000"/>
<circle cx="320.54" cy="616.1" r="2.95" fill="#ff0000"/>
<polygon points="67.3,852.6 67.3,859.4 73.5,856" fill="#8000ff" />
<polygon points="80.51,846.5 80.51,853.3 86.71,849.9" fill="#8000ff" />
<polygon points="93.71,839.8 93.71,846.6 99.91,843.2" fill="#8000ff" />
<polygon points="106.92,832.6 106.92,839.4 113.12,836" fill="#8000ff" />
<polygon points="120.13,825.4 120.13,832.2 126.33,828.8" fill="#8000ff" />
<polygon points="133.34,818.5 133.34,825.3 139.54,821.9" fill="#8000ff" />
<polygon points="146.55,811.5 146.55,818.3 152.75,814.9" fill="#8000ff" />
<polygon points="159.75,804.6 159.75,811.4 165.95,808" fill="#8000ff" />
<polygon points="172.96,797.9 172.96,804.7 179.16,801.3" fill="#8000ff" />
<polygon points="186.17,791 186.17,797.8 192.37,794.4" fill="#8000ff" />
<polygon points="199.38,784.6 199.38,791.4 205.57,788" fill="#8000ff" />
<polygon points="212.58,777.2 212.58,784 218.78,780.6" fill="#8000ff" />
<polygon points="225.79,769.1 225.79,775.9 231.99,772.5" fill="#8000ff" />
<polygon points="239,761.9 239,768.7 245.2,765.3" fill="#8000ff" />
<polygon points="252.21,754.5 252.21,761.3 258.41,757.9" fill="#8000ff" />
<polygon points="265.41,746.5 265.41,753.3 271.61,749.9" fill="#8000ff" />
<polygon points="278.62,738.5 278.62,745.3 284.82,741.9" fill="#8000ff" />
<polygon points="291.83,729.9 291.83,736.7 298.03,733.3" fill="#8000ff" />
<polygon points="305.03,720.9 305.03,727.7 311.24,724.3" fill="#8000ff" />
<polygon points="318.24,711.8 318.24,718.6 324.44,715.2" fill="#8000ff" />
<polygon points="331.45,703.3 331.45,710.1 337.65,706.7" fill="#8000ff" />
<polygon points="344.66,695.3 344.66,702.1 350.86,698.7" fill="#8000ff" />
<polygon points="357.86,687.3 357.86,694.1 364.06,690.7" fill="#8000ff" />
<polygon points="371.07,679.3 371.07,686.1 377.27,682.7" fill="#8000ff" />
<polygon points="384.28,671.9 384.28,678.7 390.48,675.3" fill="#8000ff" />
<polygon points="135.64,869.9 132.4,872.25 133.64,876.05 137.64,876.05 138.87,872.25" fill="#008080" />
<polygon points="148.84,863.3 145.61,865.65 146.85,869.45 150.84,869.45 152.08,865.65" fill="#008080" />
<polygon points="162.05,856.6 158.82,858.95 160.05,862.75 164.05,862.75 165.29,858.95" fill="#008080" />
<polygon points="175.26,851.3 172.03,853.65 173.26,857.45 177.26,857.45 178.49,853.65" fill="#008080" />
<polygon points="188.47,845.9 185.23,848.25 186.47,852.05 190.47,852.05 191.7,848.25" fill="#008080" />
<polygon points="201.67,840.1 198.44,842.45 199.68,846.25 203.67,846.25 204.91,842.45" fill="#008080" />
<polygon points="214.88,834.5 211.65,836.85 212.88,840.65 216.88,840.65 218.12,836.85" fill="#008080" />
<polygon points="228.09,829.4 224.86,831.75 226.09,835.55 230.09,835.55 231.32,831.75" fill="#008080" />
<polygon points="241.3,823.8 238.06,826.15 239.3,829.95 243.3,829.95 244.53,826.15" fill="#008080" />
<polygon points="254.5,818.7 251.27,821.05 252.51,824.85 256.5,824.85 257.74,821.05" fill="#008080" />
<polygon points="267.71,813.9 264.48,816.25 265.71,820.05 269.71,820.05 270.95,816.25" fill="#008080" />
<polygon points="307.33,791.5 304.1,793.85 305.34,797.65 309.33,797.65 310.57,793.85" fill="#008080" />
<polygon points="320.54,781.7 317.31,784.05 318.54,787.85 322.54,787.85 323.78,784.05" fill="#008080" />
<polygon points="333.75,775.8 330.52,778.15 331.75,781.95 335.75,781.95 336.98,778.15" fill="#008080" />
<polygon points="346.96,769.4 343.72,771.75 344.96,775.55 348.96,775.55 350.19,771.75" fill="#008080" />
<polygon points="360.16,762.7 356.93,765.05 358.17,768.85 362.16,768.85 363.4,765.05" fill="#008080" />
<polygon points="373.37,756.9 370.14,759.25 371.37,763.05 375.37,763.05 376.61,759.25" fill="#008080" />
<polygon points="386.58,750.5 383.35,752.85 384.58,756.65 388.58,756.65 389.81,752.85" fill="#008080" />
<polygon points="340.55,843.3 340.55,854.9 330.25,849.1" fill="#ff7f00" />
<polygon points="336,859 331.32,861.7 331.32,867.1 336,869.8 340.68,867.1 340.68,861.7" fill="#ff0000" />
<polygon points="331.95,874.05 331.95,884.95 342.65,879.5" fill="#8000ff" />
<polygon points="335.8,888.7 330.19,892.78 332.33,899.37 339.27,899.37 341.41,892.78" fill="#008080" />
<text x="353.3" y="783.21" transform="scale(1,1.09)" font-size="12.5" fill="#000" text-anchor="start" >260 K</text>
<text x="353.3" y="797.16" transform="scale(1,1.09)" font-size="12.5" fill="#000" text-anchor="start" >280 K</text>
<text x="353.3" y="811.01" transform="scale(1,1.09)" font-size="12.5" fill="#000" text-anchor="start" >300 K</text>
<text x="353.3" y="824.95" transform="scale(1,1.09)" font-size="12.5" fill="#000" text-anchor="start" >320 K</text>
<clipPath id="cc"><rect x="427.5" y="518.3" width="234.1" height="189.7"/></clipPath>
<rect x="427.5" y="518.3" width="234.1" height="189.7" fill="none" stroke="#777" stroke-width="1.1"/>
<line x1="427.5" y1="708" x2="427.5" y2="705" stroke="#777" stroke-width="0.9" />
<line x1="435.33" y1="708" x2="435.33" y2="706.2" stroke="#777" stroke-width="0.9" />
<line x1="439.91" y1="708" x2="439.91" y2="706.2" stroke="#777" stroke-width="0.9" />
<line x1="443.16" y1="708" x2="443.16" y2="706.2" stroke="#777" stroke-width="0.9" />
<line x1="445.68" y1="708" x2="445.68" y2="706.2" stroke="#777" stroke-width="0.9" />
<line x1="447.74" y1="708" x2="447.74" y2="706.2" stroke="#777" stroke-width="0.9" />
<line x1="449.48" y1="708" x2="449.48" y2="706.2" stroke="#777" stroke-width="0.9" />
<line x1="450.99" y1="708" x2="450.99" y2="706.2" stroke="#777" stroke-width="0.9" />
<line x1="452.32" y1="708" x2="452.32" y2="706.2" stroke="#777" stroke-width="0.9" />
<line x1="453.51" y1="708" x2="453.51" y2="705" stroke="#777" stroke-width="0.9" />
<line x1="461.34" y1="708" x2="461.34" y2="706.2" stroke="#777" stroke-width="0.9" />
<line x1="465.92" y1="708" x2="465.92" y2="706.2" stroke="#777" stroke-width="0.9" />
<line x1="469.17" y1="708" x2="469.17" y2="706.2" stroke="#777" stroke-width="0.9" />
<line x1="471.69" y1="708" x2="471.69" y2="706.2" stroke="#777" stroke-width="0.9" />
<line x1="473.75" y1="708" x2="473.75" y2="706.2" stroke="#777" stroke-width="0.9" />
<line x1="475.49" y1="708" x2="475.49" y2="706.2" stroke="#777" stroke-width="0.9" />
<line x1="477" y1="708" x2="477" y2="706.2" stroke="#777" stroke-width="0.9" />
<line x1="478.33" y1="708" x2="478.33" y2="706.2" stroke="#777" stroke-width="0.9" />
<line x1="479.52" y1="708" x2="479.52" y2="705" stroke="#777" stroke-width="0.9" />
<line x1="487.35" y1="708" x2="487.35" y2="706.2" stroke="#777" stroke-width="0.9" />
<line x1="491.93" y1="708" x2="491.93" y2="706.2" stroke="#777" stroke-width="0.9" />
<line x1="495.18" y1="708" x2="495.18" y2="706.2" stroke="#777" stroke-width="0.9" />
<line x1="497.7" y1="708" x2="497.7" y2="706.2" stroke="#777" stroke-width="0.9" />
<line x1="499.76" y1="708" x2="499.76" y2="706.2" stroke="#777" stroke-width="0.9" />
<line x1="501.5" y1="708" x2="501.5" y2="706.2" stroke="#777" stroke-width="0.9" />
<line x1="503.01" y1="708" x2="503.01" y2="706.2" stroke="#777" stroke-width="0.9" />
<line x1="504.34" y1="708" x2="504.34" y2="706.2" stroke="#777" stroke-width="0.9" />
<line x1="505.53" y1="708" x2="505.53" y2="705" stroke="#777" stroke-width="0.9" />
<line x1="513.36" y1="708" x2="513.36" y2="706.2" stroke="#777" stroke-width="0.9" />
<line x1="517.94" y1="708" x2="517.94" y2="706.2" stroke="#777" stroke-width="0.9" />
<line x1="521.19" y1="708" x2="521.19" y2="706.2" stroke="#777" stroke-width="0.9" />
<line x1="523.71" y1="708" x2="523.71" y2="706.2" stroke="#777" stroke-width="0.9" />
<line x1="525.77" y1="708" x2="525.77" y2="706.2" stroke="#777" stroke-width="0.9" />
<line x1="527.51" y1="708" x2="527.51" y2="706.2" stroke="#777" stroke-width="0.9" />
<line x1="529.02" y1="708" x2="529.02" y2="706.2" stroke="#777" stroke-width="0.9" />
<line x1="530.35" y1="708" x2="530.35" y2="706.2" stroke="#777" stroke-width="0.9" />
<line x1="531.54" y1="708" x2="531.54" y2="705" stroke="#777" stroke-width="0.9" />
<line x1="539.37" y1="708" x2="539.37" y2="706.2" stroke="#777" stroke-width="0.9" />
<line x1="543.95" y1="708" x2="543.95" y2="706.2" stroke="#777" stroke-width="0.9" />
<line x1="547.2" y1="708" x2="547.2" y2="706.2" stroke="#777" stroke-width="0.9" />
<line x1="549.72" y1="708" x2="549.72" y2="706.2" stroke="#777" stroke-width="0.9" />
<line x1="551.78" y1="708" x2="551.78" y2="706.2" stroke="#777" stroke-width="0.9" />
<line x1="553.52" y1="708" x2="553.52" y2="706.2" stroke="#777" stroke-width="0.9" />
<line x1="555.03" y1="708" x2="555.03" y2="706.2" stroke="#777" stroke-width="0.9" />
<line x1="556.36" y1="708" x2="556.36" y2="706.2" stroke="#777" stroke-width="0.9" />
<line x1="557.55" y1="708" x2="557.55" y2="705" stroke="#777" stroke-width="0.9" />
<line x1="565.38" y1="708" x2="565.38" y2="706.2" stroke="#777" stroke-width="0.9" />
<line x1="569.96" y1="708" x2="569.96" y2="706.2" stroke="#777" stroke-width="0.9" />
<line x1="573.21" y1="708" x2="573.21" y2="706.2" stroke="#777" stroke-width="0.9" />
<line x1="575.73" y1="708" x2="575.73" y2="706.2" stroke="#777" stroke-width="0.9" />
<line x1="577.79" y1="708" x2="577.79" y2="706.2" stroke="#777" stroke-width="0.9" />
<line x1="579.53" y1="708" x2="579.53" y2="706.2" stroke="#777" stroke-width="0.9" />
<line x1="581.04" y1="708" x2="581.04" y2="706.2" stroke="#777" stroke-width="0.9" />
<line x1="582.37" y1="708" x2="582.37" y2="706.2" stroke="#777" stroke-width="0.9" />
<line x1="583.56" y1="708" x2="583.56" y2="705" stroke="#777" stroke-width="0.9" />
<line x1="591.39" y1="708" x2="591.39" y2="706.2" stroke="#777" stroke-width="0.9" />
<line x1="595.97" y1="708" x2="595.97" y2="706.2" stroke="#777" stroke-width="0.9" />
<line x1="599.22" y1="708" x2="599.22" y2="706.2" stroke="#777" stroke-width="0.9" />
<line x1="601.74" y1="708" x2="601.74" y2="706.2" stroke="#777" stroke-width="0.9" />
<line x1="603.8" y1="708" x2="603.8" y2="706.2" stroke="#777" stroke-width="0.9" />
<line x1="605.54" y1="708" x2="605.54" y2="706.2" stroke="#777" stroke-width="0.9" />
<line x1="607.05" y1="708" x2="607.05" y2="706.2" stroke="#777" stroke-width="0.9" />
<line x1="608.38" y1="708" x2="608.38" y2="706.2" stroke="#777" stroke-width="0.9" />
<line x1="609.57" y1="708" x2="609.57" y2="705" stroke="#777" stroke-width="0.9" />
<line x1="617.4" y1="708" x2="617.4" y2="706.2" stroke="#777" stroke-width="0.9" />
<line x1="621.98" y1="708" x2="621.98" y2="706.2" stroke="#777" stroke-width="0.9" />
<line x1="625.23" y1="708" x2="625.23" y2="706.2" stroke="#777" stroke-width="0.9" />
<line x1="627.75" y1="708" x2="627.75" y2="706.2" stroke="#777" stroke-width="0.9" />
<line x1="629.81" y1="708" x2="629.81" y2="706.2" stroke="#777" stroke-width="0.9" />
<line x1="631.55" y1="708" x2="631.55" y2="706.2" stroke="#777" stroke-width="0.9" />
<line x1="633.06" y1="708" x2="633.06" y2="706.2" stroke="#777" stroke-width="0.9" />
<line x1="634.39" y1="708" x2="634.39" y2="706.2" stroke="#777" stroke-width="0.9" />
<line x1="635.58" y1="708" x2="635.58" y2="705" stroke="#777" stroke-width="0.9" />
<line x1="643.41" y1="708" x2="643.41" y2="706.2" stroke="#777" stroke-width="0.9" />
<line x1="647.99" y1="708" x2="647.99" y2="706.2" stroke="#777" stroke-width="0.9" />
<line x1="651.24" y1="708" x2="651.24" y2="706.2" stroke="#777" stroke-width="0.9" />
<line x1="653.76" y1="708" x2="653.76" y2="706.2" stroke="#777" stroke-width="0.9" />
<line x1="655.82" y1="708" x2="655.82" y2="706.2" stroke="#777" stroke-width="0.9" />
<line x1="657.56" y1="708" x2="657.56" y2="706.2" stroke="#777" stroke-width="0.9" />
<line x1="659.07" y1="708" x2="659.07" y2="706.2" stroke="#777" stroke-width="0.9" />
<line x1="660.4" y1="708" x2="660.4" y2="706.2" stroke="#777" stroke-width="0.9" />
<line x1="427.5" y1="707.92" x2="429.3" y2="707.92" stroke="#777" stroke-width="0.9" />
<line x1="661.6" y1="707.92" x2="659.8" y2="707.92" stroke="#777" stroke-width="0.9" />
<line x1="427.5" y1="704.16" x2="429.3" y2="704.16" stroke="#777" stroke-width="0.9" />
<line x1="661.6" y1="704.16" x2="659.8" y2="704.16" stroke="#777" stroke-width="0.9" />
<line x1="427.5" y1="700.8" x2="430.5" y2="700.8" stroke="#777" stroke-width="0.9" />
<line x1="661.6" y1="700.8" x2="658.6" y2="700.8" stroke="#777" stroke-width="0.9" />
<line x1="427.5" y1="678.67" x2="429.3" y2="678.67" stroke="#777" stroke-width="0.9" />
<line x1="661.6" y1="678.67" x2="659.8" y2="678.67" stroke="#777" stroke-width="0.9" />
<line x1="427.5" y1="665.73" x2="429.3" y2="665.73" stroke="#777" stroke-width="0.9" />
<line x1="661.6" y1="665.73" x2="659.8" y2="665.73" stroke="#777" stroke-width="0.9" />
<line x1="427.5" y1="656.55" x2="429.3" y2="656.55" stroke="#777" stroke-width="0.9" />
<line x1="661.6" y1="656.55" x2="659.8" y2="656.55" stroke="#777" stroke-width="0.9" />
<line x1="427.5" y1="649.43" x2="429.3" y2="649.43" stroke="#777" stroke-width="0.9" />
<line x1="661.6" y1="649.43" x2="659.8" y2="649.43" stroke="#777" stroke-width="0.9" />
<line x1="427.5" y1="643.61" x2="429.3" y2="643.61" stroke="#777" stroke-width="0.9" />
<line x1="661.6" y1="643.61" x2="659.8" y2="643.61" stroke="#777" stroke-width="0.9" />
<line x1="427.5" y1="638.69" x2="429.3" y2="638.69" stroke="#777" stroke-width="0.9" />
<line x1="661.6" y1="638.69" x2="659.8" y2="638.69" stroke="#777" stroke-width="0.9" />
<line x1="427.5" y1="634.42" x2="429.3" y2="634.42" stroke="#777" stroke-width="0.9" />
<line x1="661.6" y1="634.42" x2="659.8" y2="634.42" stroke="#777" stroke-width="0.9" />
<line x1="427.5" y1="630.66" x2="429.3" y2="630.66" stroke="#777" stroke-width="0.9" />
<line x1="661.6" y1="630.66" x2="659.8" y2="630.66" stroke="#777" stroke-width="0.9" />
<line x1="427.5" y1="627.3" x2="430.5" y2="627.3" stroke="#777" stroke-width="0.9" />
<line x1="661.6" y1="627.3" x2="658.6" y2="627.3" stroke="#777" stroke-width="0.9" />
<line x1="427.5" y1="605.17" x2="429.3" y2="605.17" stroke="#777" stroke-width="0.9" />
<line x1="661.6" y1="605.17" x2="659.8" y2="605.17" stroke="#777" stroke-width="0.9" />
<line x1="427.5" y1="592.23" x2="429.3" y2="592.23" stroke="#777" stroke-width="0.9" />
<line x1="661.6" y1="592.23" x2="659.8" y2="592.23" stroke="#777" stroke-width="0.9" />
<line x1="427.5" y1="583.05" x2="429.3" y2="583.05" stroke="#777" stroke-width="0.9" />
<line x1="661.6" y1="583.05" x2="659.8" y2="583.05" stroke="#777" stroke-width="0.9" />
<line x1="427.5" y1="575.93" x2="429.3" y2="575.93" stroke="#777" stroke-width="0.9" />
<line x1="661.6" y1="575.93" x2="659.8" y2="575.93" stroke="#777" stroke-width="0.9" />
<line x1="427.5" y1="570.11" x2="429.3" y2="570.11" stroke="#777" stroke-width="0.9" />
<line x1="661.6" y1="570.11" x2="659.8" y2="570.11" stroke="#777" stroke-width="0.9" />
<line x1="427.5" y1="565.19" x2="429.3" y2="565.19" stroke="#777" stroke-width="0.9" />
<line x1="661.6" y1="565.19" x2="659.8" y2="565.19" stroke="#777" stroke-width="0.9" />
<line x1="427.5" y1="560.92" x2="429.3" y2="560.92" stroke="#777" stroke-width="0.9" />
<line x1="661.6" y1="560.92" x2="659.8" y2="560.92" stroke="#777" stroke-width="0.9" />
<line x1="427.5" y1="557.16" x2="429.3" y2="557.16" stroke="#777" stroke-width="0.9" />
<line x1="661.6" y1="557.16" x2="659.8" y2="557.16" stroke="#777" stroke-width="0.9" />
<line x1="427.5" y1="553.8" x2="430.5" y2="553.8" stroke="#777" stroke-width="0.9" />
<line x1="661.6" y1="553.8" x2="658.6" y2="553.8" stroke="#777" stroke-width="0.9" />
<line x1="427.5" y1="531.67" x2="429.3" y2="531.67" stroke="#777" stroke-width="0.9" />
<line x1="661.6" y1="531.67" x2="659.8" y2="531.67" stroke="#777" stroke-width="0.9" />
<line x1="427.5" y1="518.73" x2="429.3" y2="518.73" stroke="#777" stroke-width="0.9" />
<line x1="661.6" y1="518.73" x2="659.8" y2="518.73" stroke="#777" stroke-width="0.9" />
<text x="427.5" y="669.08" transform="scale(1,1.09)" font-size="18.5" text-anchor="middle">10<tspan font-size="11.5" dy="-7.16">-2</tspan></text>
<text x="479.52" y="669.08" transform="scale(1,1.09)" font-size="18.5" text-anchor="middle">10<tspan font-size="11.5" dy="-7.16">0</tspan></text>
<text x="531.54" y="669.08" transform="scale(1,1.09)" font-size="18.5" text-anchor="middle">10<tspan font-size="11.5" dy="-7.16">2</tspan></text>
<text x="583.56" y="669.08" transform="scale(1,1.09)" font-size="18.5" text-anchor="middle">10<tspan font-size="11.5" dy="-7.16">4</tspan></text>
<text x="635.58" y="669.08" transform="scale(1,1.09)" font-size="18.5" text-anchor="middle">10<tspan font-size="11.5" dy="-7.16">6</tspan></text>
<g clip-path="url(#cc)">
<polygon points="429.4,556.36 431.4,558.36 429.4,560.36 427.4,558.36" fill="#fff" stroke="#a04040" stroke-width="0.5"/>
<polygon points="429.4,556.36 431.4,558.36 427.4,558.36" fill="#8b0f0f" />
<polygon points="433.25,561.92 435.25,563.92 433.25,565.92 431.25,563.92" fill="#fff" stroke="#a04040" stroke-width="0.5"/>
<polygon points="433.25,561.92 435.25,563.92 431.25,563.92" fill="#8b0f0f" />
<polygon points="437.1,563.44 439.1,565.44 437.1,567.44 435.1,565.44" fill="#fff" stroke="#a04040" stroke-width="0.5"/>
<polygon points="437.1,563.44 439.1,565.44 435.1,565.44" fill="#8b0f0f" />
<polygon points="440.95,562.12 442.95,564.12 440.95,566.12 438.95,564.12" fill="#fff" stroke="#a04040" stroke-width="0.5"/>
<polygon points="440.95,562.12 442.95,564.12 438.95,564.12" fill="#8b0f0f" />
<polygon points="444.8,559.39 446.8,561.39 444.8,563.39 442.8,561.39" fill="#fff" stroke="#a04040" stroke-width="0.5"/>
<polygon points="444.8,559.39 446.8,561.39 442.8,561.39" fill="#8b0f0f" />
<polygon points="448.65,555.91 450.65,557.91 448.65,559.91 446.65,557.91" fill="#fff" stroke="#a04040" stroke-width="0.5"/>
<polygon points="448.65,555.91 450.65,557.91 446.65,557.91" fill="#8b0f0f" />
<polygon points="452.5,553.43 454.5,555.43 452.5,557.43 450.5,555.43" fill="#fff" stroke="#a04040" stroke-width="0.5"/>
<polygon points="452.5,553.43 454.5,555.43 450.5,555.43" fill="#8b0f0f" />
<polygon points="456.35,552.01 458.35,554.01 456.35,556.01 454.35,554.01" fill="#fff" stroke="#a04040" stroke-width="0.5"/>
<polygon points="456.35,552.01 458.35,554.01 454.35,554.01" fill="#8b0f0f" />
<polygon points="460.2,552.24 462.2,554.24 460.2,556.24 458.2,554.24" fill="#fff" stroke="#a04040" stroke-width="0.5"/>
<polygon points="460.2,552.24 462.2,554.24 458.2,554.24" fill="#8b0f0f" />
<polygon points="464.05,553.62 466.05,555.62 464.05,557.62 462.05,555.62" fill="#fff" stroke="#a04040" stroke-width="0.5"/>
<polygon points="464.05,553.62 466.05,555.62 462.05,555.62" fill="#8b0f0f" />
<polygon points="467.9,555.89 469.9,557.89 467.9,559.89 465.9,557.89" fill="#fff" stroke="#a04040" stroke-width="0.5"/>
<polygon points="467.9,555.89 469.9,557.89 465.9,557.89" fill="#8b0f0f" />
<polygon points="471.75,559.46 473.75,561.46 471.75,563.46 469.75,561.46" fill="#fff" stroke="#a04040" stroke-width="0.5"/>
<polygon points="471.75,559.46 473.75,561.46 469.75,561.46" fill="#8b0f0f" />
<polygon points="475.6,564.44 477.6,566.44 475.6,568.44 473.6,566.44" fill="#fff" stroke="#a04040" stroke-width="0.5"/>
<polygon points="475.6,564.44 477.6,566.44 473.6,566.44" fill="#8b0f0f" />
<polygon points="479.45,569.47 481.45,571.47 479.45,573.47 477.45,571.47" fill="#fff" stroke="#a04040" stroke-width="0.5"/>
<polygon points="479.45,569.47 481.45,571.47 477.45,571.47" fill="#8b0f0f" />
<polygon points="483.3,573.93 485.3,575.93 483.3,577.93 481.3,575.93" fill="#fff" stroke="#a04040" stroke-width="0.5"/>
<polygon points="483.3,573.93 485.3,575.93 481.3,575.93" fill="#8b0f0f" />
<polygon points="487.15,579.29 489.15,581.29 487.15,583.29 485.15,581.29" fill="#fff" stroke="#a04040" stroke-width="0.5"/>
<polygon points="487.15,579.29 489.15,581.29 485.15,581.29" fill="#8b0f0f" />
<polygon points="491,585.56 493,587.56 491,589.56 489,587.56" fill="#fff" stroke="#a04040" stroke-width="0.5"/>
<polygon points="491,585.56 493,587.56 489,587.56" fill="#8b0f0f" />
<polygon points="494.85,590.63 496.85,592.63 494.85,594.63 492.85,592.63" fill="#fff" stroke="#a04040" stroke-width="0.5"/>
<polygon points="494.85,590.63 496.85,592.63 492.85,592.63" fill="#8b0f0f" />
<polygon points="498.7,595.81 500.7,597.81 498.7,599.81 496.7,597.81" fill="#fff" stroke="#a04040" stroke-width="0.5"/>
<polygon points="498.7,595.81 500.7,597.81 496.7,597.81" fill="#8b0f0f" />
<polygon points="502.55,601.42 504.55,603.42 502.55,605.42 500.55,603.42" fill="#fff" stroke="#a04040" stroke-width="0.5"/>
<polygon points="502.55,601.42 504.55,603.42 500.55,603.42" fill="#8b0f0f" />
<polygon points="506.4,607.17 508.4,609.17 506.4,611.17 504.4,609.17" fill="#fff" stroke="#a04040" stroke-width="0.5"/>
<polygon points="506.4,607.17 508.4,609.17 504.4,609.17" fill="#8b0f0f" />
<polygon points="510.25,612.93 512.25,614.93 510.25,616.93 508.25,614.93" fill="#fff" stroke="#a04040" stroke-width="0.5"/>
<polygon points="510.25,612.93 512.25,614.93 508.25,614.93" fill="#8b0f0f" />
<polygon points="514.1,618.34 516.1,620.34 514.1,622.34 512.1,620.34" fill="#fff" stroke="#a04040" stroke-width="0.5"/>
<polygon points="514.1,618.34 516.1,620.34 512.1,620.34" fill="#8b0f0f" />
<polygon points="517.95,623.69 519.95,625.69 517.95,627.69 515.95,625.69" fill="#fff" stroke="#a04040" stroke-width="0.5"/>
<polygon points="517.95,623.69 519.95,625.69 515.95,625.69" fill="#8b0f0f" />
<polygon points="521.8,628.14 523.8,630.14 521.8,632.14 519.8,630.14" fill="#fff" stroke="#a04040" stroke-width="0.5"/>
<polygon points="521.8,628.14 523.8,630.14 519.8,630.14" fill="#8b0f0f" />
<polygon points="525.65,632.6 527.65,634.6 525.65,636.6 523.65,634.6" fill="#fff" stroke="#a04040" stroke-width="0.5"/>
<polygon points="525.65,632.6 527.65,634.6 523.65,634.6" fill="#8b0f0f" />
<polygon points="529.5,637.36 531.5,639.36 529.5,641.36 527.5,639.36" fill="#fff" stroke="#a04040" stroke-width="0.5"/>
<polygon points="529.5,637.36 531.5,639.36 527.5,639.36" fill="#8b0f0f" />
<polygon points="533.35,642.21 535.35,644.21 533.35,646.21 531.35,644.21" fill="#fff" stroke="#a04040" stroke-width="0.5"/>
<polygon points="533.35,642.21 535.35,644.21 531.35,644.21" fill="#8b0f0f" />
<polygon points="537.2,646.76 539.2,648.76 537.2,650.76 535.2,648.76" fill="#fff" stroke="#a04040" stroke-width="0.5"/>
<polygon points="537.2,646.76 539.2,648.76 535.2,648.76" fill="#8b0f0f" />
<polygon points="541.05,650.96 543.05,652.96 541.05,654.96 539.05,652.96" fill="#fff" stroke="#a04040" stroke-width="0.5"/>
<polygon points="541.05,650.96 543.05,652.96 539.05,652.96" fill="#8b0f0f" />
<polygon points="544.9,655.1 546.9,657.1 544.9,659.1 542.9,657.1" fill="#fff" stroke="#a04040" stroke-width="0.5"/>
<polygon points="544.9,655.1 546.9,657.1 542.9,657.1" fill="#8b0f0f" />
<polygon points="548.75,658.95 550.75,660.95 548.75,662.95 546.75,660.95" fill="#fff" stroke="#a04040" stroke-width="0.5"/>
<polygon points="548.75,658.95 550.75,660.95 546.75,660.95" fill="#8b0f0f" />
<polygon points="552.6,662.8 554.6,664.8 552.6,666.8 550.6,664.8" fill="#fff" stroke="#a04040" stroke-width="0.5"/>
<polygon points="552.6,662.8 554.6,664.8 550.6,664.8" fill="#8b0f0f" />
<polygon points="556.45,666.1 558.45,668.1 556.45,670.1 554.45,668.1" fill="#fff" stroke="#a04040" stroke-width="0.5"/>
<polygon points="556.45,666.1 558.45,668.1 554.45,668.1" fill="#8b0f0f" />
<polygon points="560.3,669.3 562.3,671.3 560.3,673.3 558.3,671.3" fill="#fff" stroke="#a04040" stroke-width="0.5"/>
<polygon points="560.3,669.3 562.3,671.3 558.3,671.3" fill="#8b0f0f" />
<polygon points="564.15,672.5 566.15,674.5 564.15,676.5 562.15,674.5" fill="#fff" stroke="#a04040" stroke-width="0.5"/>
<polygon points="564.15,672.5 566.15,674.5 562.15,674.5" fill="#8b0f0f" />
<polygon points="568,675.71 570,677.71 568,679.71 566,677.71" fill="#fff" stroke="#a04040" stroke-width="0.5"/>
<polygon points="568,675.71 570,677.71 566,677.71" fill="#8b0f0f" />
<polygon points="571.85,678.76 573.85,680.76 571.85,682.76 569.85,680.76" fill="#fff" stroke="#a04040" stroke-width="0.5"/>
<polygon points="571.85,678.76 573.85,680.76 569.85,680.76" fill="#8b0f0f" />
<polygon points="575.7,681.32 577.7,683.32 575.7,685.32 573.7,683.32" fill="#fff" stroke="#a04040" stroke-width="0.5"/>
<polygon points="575.7,681.32 577.7,683.32 573.7,683.32" fill="#8b0f0f" />
<polygon points="579.55,683.87 581.55,685.87 579.55,687.87 577.55,685.87" fill="#fff" stroke="#a04040" stroke-width="0.5"/>
<polygon points="579.55,683.87 581.55,685.87 577.55,685.87" fill="#8b0f0f" />
<polygon points="583.4,685.83 585.4,687.83 583.4,689.83 581.4,687.83" fill="#fff" stroke="#a04040" stroke-width="0.5"/>
<polygon points="583.4,685.83 585.4,687.83 581.4,687.83" fill="#8b0f0f" />
<polygon points="587.25,687.73 589.25,689.73 587.25,691.73 585.25,689.73" fill="#fff" stroke="#a04040" stroke-width="0.5"/>
<polygon points="587.25,687.73 589.25,689.73 585.25,689.73" fill="#8b0f0f" />
<polygon points="591.1,689.27 593.1,691.27 591.1,693.27 589.1,691.27" fill="#fff" stroke="#a04040" stroke-width="0.5"/>
<polygon points="591.1,689.27 593.1,691.27 589.1,691.27" fill="#8b0f0f" />
<polygon points="594.95,690.55 596.95,692.55 594.95,694.55 592.95,692.55" fill="#fff" stroke="#a04040" stroke-width="0.5"/>
<polygon points="594.95,690.55 596.95,692.55 592.95,692.55" fill="#8b0f0f" />
<polygon points="598.8,691.34 600.8,693.34 598.8,695.34 596.8,693.34" fill="#fff" stroke="#a04040" stroke-width="0.5"/>
<polygon points="598.8,691.34 600.8,693.34 596.8,693.34" fill="#8b0f0f" />
<polygon points="602.65,692.11 604.65,694.11 602.65,696.11 600.65,694.11" fill="#fff" stroke="#a04040" stroke-width="0.5"/>
<polygon points="602.65,692.11 604.65,694.11 600.65,694.11" fill="#8b0f0f" />
<polygon points="606.5,692.2 608.5,694.2 606.5,696.2 604.5,694.2" fill="#fff" stroke="#a04040" stroke-width="0.5"/>
<polygon points="606.5,692.2 608.5,694.2 604.5,694.2" fill="#8b0f0f" />
<polygon points="610.35,692.06 612.35,694.06 610.35,696.06 608.35,694.06" fill="#fff" stroke="#a04040" stroke-width="0.5"/>
<polygon points="610.35,692.06 612.35,694.06 608.35,694.06" fill="#8b0f0f" />
<polygon points="614.2,691.46 616.2,693.46 614.2,695.46 612.2,693.46" fill="#fff" stroke="#a04040" stroke-width="0.5"/>
<polygon points="614.2,691.46 616.2,693.46 612.2,693.46" fill="#8b0f0f" />
<polygon points="618.05,690.37 620.05,692.37 618.05,694.37 616.05,692.37" fill="#fff" stroke="#a04040" stroke-width="0.5"/>
<polygon points="618.05,690.37 620.05,692.37 616.05,692.37" fill="#8b0f0f" />
<polygon points="621.9,689.01 623.9,691.01 621.9,693.01 619.9,691.01" fill="#fff" stroke="#a04040" stroke-width="0.5"/>
<polygon points="621.9,689.01 623.9,691.01 619.9,691.01" fill="#8b0f0f" />
<polygon points="625.75,687.3 627.75,689.3 625.75,691.3 623.75,689.3" fill="#fff" stroke="#a04040" stroke-width="0.5"/>
<polygon points="625.75,687.3 627.75,689.3 623.75,689.3" fill="#8b0f0f" />
<polygon points="629.6,685.64 631.6,687.64 629.6,689.64 627.6,687.64" fill="#fff" stroke="#a04040" stroke-width="0.5"/>
<polygon points="629.6,685.64 631.6,687.64 627.6,687.64" fill="#8b0f0f" />
<polygon points="633.45,684.3 635.45,686.3 633.45,688.3 631.45,686.3" fill="#fff" stroke="#a04040" stroke-width="0.5"/>
<polygon points="633.45,684.3 635.45,686.3 631.45,686.3" fill="#8b0f0f" />
<polygon points="637.3,682.96 639.3,684.96 637.3,686.96 635.3,684.96" fill="#fff" stroke="#a04040" stroke-width="0.5"/>
<polygon points="637.3,682.96 639.3,684.96 635.3,684.96" fill="#8b0f0f" />
<polygon points="641.15,681.29 643.15,683.29 641.15,685.29 639.15,683.29" fill="#fff" stroke="#a04040" stroke-width="0.5"/>
<polygon points="641.15,681.29 643.15,683.29 639.15,683.29" fill="#8b0f0f" />
<polygon points="645,679.57 647,681.57 645,683.57 643,681.57" fill="#fff" stroke="#a04040" stroke-width="0.5"/>
<polygon points="645,679.57 647,681.57 643,681.57" fill="#8b0f0f" />
<polygon points="648.85,678.39 650.85,680.39 648.85,682.39 646.85,680.39" fill="#fff" stroke="#a04040" stroke-width="0.5"/>
<polygon points="648.85,678.39 650.85,680.39 646.85,680.39" fill="#8b0f0f" />
<polygon points="652.7,677.45 654.7,679.45 652.7,681.45 650.7,679.45" fill="#fff" stroke="#a04040" stroke-width="0.5"/>
<polygon points="652.7,677.45 654.7,679.45 650.7,679.45" fill="#8b0f0f" />
<polygon points="656.55,676.01 658.55,678.01 656.55,680.01 654.55,678.01" fill="#fff" stroke="#a04040" stroke-width="0.5"/>
<polygon points="656.55,676.01 658.55,678.01 654.55,678.01" fill="#8b0f0f" />
<polygon points="660.4,674.05 662.4,676.05 660.4,678.05 658.4,676.05" fill="#fff" stroke="#a04040" stroke-width="0.5"/>
<polygon points="660.4,674.05 662.4,676.05 658.4,676.05" fill="#8b0f0f" />
<polygon points="664.25,673.13 666.25,675.13 664.25,677.13 662.25,675.13" fill="#fff" stroke="#a04040" stroke-width="0.5"/>
<polygon points="664.25,673.13 666.25,675.13 662.25,675.13" fill="#8b0f0f" />
<polygon points="427.6,554.3 429.7,557.9 425.5,557.9" fill="#e0f2e0" />
<polygon points="427.6,554.3 428.7,556.2 426.5,556.2" fill="#138a13" />
<polygon points="431.45,559.86 433.55,563.46 429.35,563.46" fill="#e0f2e0" />
<polygon points="431.45,559.86 432.55,561.76 430.35,561.76" fill="#138a13" />
<polygon points="435.3,562.43 437.4,566.03 433.2,566.03" fill="#e0f2e0" />
<polygon points="435.3,562.43 436.4,564.33 434.2,564.33" fill="#138a13" />
<polygon points="439.15,561.65 441.25,565.25 437.05,565.25" fill="#e0f2e0" />
<polygon points="439.15,561.65 440.25,563.55 438.05,563.55" fill="#138a13" />
<polygon points="443,559.13 445.1,562.73 440.9,562.73" fill="#e0f2e0" />
<polygon points="443,559.13 444.1,561.03 441.9,561.03" fill="#138a13" />
<polygon points="446.85,555.76 448.95,559.36 444.75,559.36" fill="#e0f2e0" />
<polygon points="446.85,555.76 447.95,557.66 445.75,557.66" fill="#138a13" />
<polygon points="450.7,552.99 452.8,556.59 448.6,556.59" fill="#e0f2e0" />
<polygon points="450.7,552.99 451.8,554.89 449.6,554.89" fill="#138a13" />
<polygon points="454.55,551.34 456.65,554.94 452.45,554.94" fill="#e0f2e0" />
<polygon points="454.55,551.34 455.65,553.24 453.45,553.24" fill="#138a13" />
<polygon points="458.4,551.23 460.5,554.83 456.3,554.83" fill="#e0f2e0" />
<polygon points="458.4,551.23 459.5,553.13 457.3,553.13" fill="#138a13" />
<polygon points="462.25,552.37 464.35,555.97 460.15,555.97" fill="#e0f2e0" />
<polygon points="462.25,552.37 463.35,554.27 461.15,554.27" fill="#138a13" />
<polygon points="466.1,554.48 468.2,558.08 464,558.08" fill="#e0f2e0" />
<polygon points="466.1,554.48 467.2,556.38 465,556.38" fill="#138a13" />
<polygon points="469.95,557.78 472.05,561.38 467.85,561.38" fill="#e0f2e0" />
<polygon points="469.95,557.78 471.05,559.68 468.85,559.68" fill="#138a13" />
<polygon points="473.8,562.49 475.9,566.09 471.7,566.09" fill="#e0f2e0" />
<polygon points="473.8,562.49 474.9,564.39 472.7,564.39" fill="#138a13" />
<polygon points="477.65,567.53 479.75,571.13 475.55,571.13" fill="#e0f2e0" />
<polygon points="477.65,567.53 478.75,569.43 476.55,569.43" fill="#138a13" />
<polygon points="481.5,572.11 483.6,575.71 479.4,575.71" fill="#e0f2e0" />
<polygon points="481.5,572.11 482.6,574.01 480.4,574.01" fill="#138a13" />
<polygon points="485.35,577.24 487.45,580.84 483.25,580.84" fill="#e0f2e0" />
<polygon points="485.35,577.24 486.45,579.14 484.25,579.14" fill="#138a13" />
<polygon points="489.2,583.31 491.3,586.91 487.1,586.91" fill="#e0f2e0" />
<polygon points="489.2,583.31 490.3,585.21 488.1,585.21" fill="#138a13" />
<polygon points="493.05,588.72 495.15,592.32 490.95,592.32" fill="#e0f2e0" />
<polygon points="493.05,588.72 494.15,590.62 491.95,590.62" fill="#138a13" />
<polygon points="496.9,593.82 499,597.42 494.8,597.42" fill="#e0f2e0" />
<polygon points="496.9,593.82 498,595.72 495.8,595.72" fill="#138a13" />
<polygon points="500.75,599.32 502.85,602.92 498.65,602.92" fill="#e0f2e0" />
<polygon points="500.75,599.32 501.85,601.22 499.65,601.22" fill="#138a13" />
<polygon points="504.6,605.08 506.7,608.68 502.5,608.68" fill="#e0f2e0" />
<polygon points="504.6,605.08 505.7,606.98 503.5,606.98" fill="#138a13" />
<polygon points="508.45,610.83 510.55,614.43 506.35,614.43" fill="#e0f2e0" />
<polygon points="508.45,610.83 509.55,612.73 507.35,612.73" fill="#138a13" />
<polygon points="512.3,616.32 514.4,619.92 510.2,619.92" fill="#e0f2e0" />
<polygon points="512.3,616.32 513.4,618.22 511.2,618.22" fill="#138a13" />
<polygon points="516.15,621.73 518.25,625.33 514.05,625.33" fill="#e0f2e0" />
<polygon points="516.15,621.73 517.25,623.63 515.05,623.63" fill="#138a13" />
<polygon points="520,626.32 522.1,629.92 517.9,629.92" fill="#e0f2e0" />
<polygon points="520,626.32 521.1,628.22 518.9,628.22" fill="#138a13" />
<polygon points="523.85,630.77 525.95,634.37 521.75,634.37" fill="#e0f2e0" />
<polygon points="523.85,630.77 524.95,632.67 522.75,632.67" fill="#138a13" />
<polygon points="527.7,635.45 529.8,639.05 525.6,639.05" fill="#e0f2e0" />
<polygon points="527.7,635.45 528.8,637.35 526.6,637.35" fill="#138a13" />
<polygon points="531.55,640.31 533.65,643.91 529.45,643.91" fill="#e0f2e0" />
<polygon points="531.55,640.31 532.65,642.21 530.45,642.21" fill="#138a13" />
<polygon points="535.4,644.99 537.5,648.59 533.3,648.59" fill="#e0f2e0" />
<polygon points="535.4,644.99 536.5,646.89 534.3,646.89" fill="#138a13" />
<polygon points="539.25,649.19 541.35,652.79 537.15,652.79" fill="#e0f2e0" />
<polygon points="539.25,649.19 540.35,651.09 538.15,651.09" fill="#138a13" />
<polygon points="543.1,653.38 545.2,656.98 541,656.98" fill="#e0f2e0" />
<polygon points="543.1,653.38 544.2,655.28 542,655.28" fill="#138a13" />
<polygon points="546.95,657.25 549.05,660.85 544.85,660.85" fill="#e0f2e0" />
<polygon points="546.95,657.25 548.05,659.15 545.85,659.15" fill="#138a13" />
<polygon points="550.8,661.1 552.9,664.7 548.7,664.7" fill="#e0f2e0" />
<polygon points="550.8,661.1 551.9,663 549.7,663" fill="#138a13" />
<polygon points="554.65,664.54 556.75,668.14 552.55,668.14" fill="#e0f2e0" />
<polygon points="554.65,664.54 555.75,666.44 553.55,666.44" fill="#138a13" />
<polygon points="558.5,667.74 560.6,671.34 556.4,671.34" fill="#e0f2e0" />
<polygon points="558.5,667.74 559.6,669.64 557.4,669.64" fill="#138a13" />
<polygon points="562.35,670.94 564.45,674.54 560.25,674.54" fill="#e0f2e0" />
<polygon points="562.35,670.94 563.45,672.84 561.25,672.84" fill="#138a13" />
<polygon points="566.2,674.14 568.3,677.74 564.1,677.74" fill="#e0f2e0" />
<polygon points="566.2,674.14 567.3,676.04 565.1,676.04" fill="#138a13" />
<polygon points="570.05,677.33 572.15,680.93 567.95,680.93" fill="#e0f2e0" />
<polygon points="570.05,677.33 571.15,679.23 568.95,679.23" fill="#138a13" />
<polygon points="573.9,679.89 576,683.49 571.8,683.49" fill="#e0f2e0" />
<polygon points="573.9,679.89 575,681.79 572.8,681.79" fill="#138a13" />
<polygon points="577.75,682.44 579.85,686.04 575.65,686.04" fill="#e0f2e0" />
<polygon points="577.75,682.44 578.85,684.34 576.65,684.34" fill="#138a13" />
<polygon points="581.6,684.53 583.7,688.13 579.5,688.13" fill="#e0f2e0" />
<polygon points="581.6,684.53 582.7,686.43 580.5,686.43" fill="#138a13" />
<polygon points="585.45,686.44 587.55,690.04 583.35,690.04" fill="#e0f2e0" />
<polygon points="585.45,686.44 586.55,688.34 584.35,688.34" fill="#138a13" />
<polygon points="589.3,688.1 591.4,691.7 587.2,691.7" fill="#e0f2e0" />
<polygon points="589.3,688.1 590.4,690 588.2,690" fill="#138a13" />
<polygon points="593.15,689.38 595.25,692.98 591.05,692.98" fill="#e0f2e0" />
<polygon points="593.15,689.38 594.25,691.28 592.05,691.28" fill="#138a13" />
<polygon points="597,690.28 599.1,693.88 594.9,693.88" fill="#e0f2e0" />
<polygon points="597,690.28 598.1,692.18 595.9,692.18" fill="#138a13" />
<polygon points="600.85,690.99 602.95,694.59 598.75,694.59" fill="#e0f2e0" />
<polygon points="600.85,690.99 601.95,692.89 599.75,692.89" fill="#138a13" />
<polygon points="604.7,691 606.8,694.6 602.6,694.6" fill="#e0f2e0" />
<polygon points="604.7,691 605.8,692.9 603.6,692.9" fill="#138a13" />
<polygon points="608.55,690.59 610.65,694.19 606.45,694.19" fill="#e0f2e0" />
<polygon points="608.55,690.59 609.65,692.49 607.45,692.49" fill="#138a13" />
<polygon points="612.4,689.9 614.5,693.5 610.3,693.5" fill="#e0f2e0" />
<polygon points="612.4,689.9 613.5,691.8 611.3,691.8" fill="#138a13" />
<polygon points="616.25,688.63 618.35,692.23 614.15,692.23" fill="#e0f2e0" />
<polygon points="616.25,688.63 617.35,690.53 615.15,690.53" fill="#138a13" />
<polygon points="620.1,687.29 622.2,690.89 618,690.89" fill="#e0f2e0" />
<polygon points="620.1,687.29 621.2,689.19 619,689.19" fill="#138a13" />
<polygon points="623.95,685.48 626.05,689.08 621.85,689.08" fill="#e0f2e0" />
<polygon points="623.95,685.48 625.05,687.38 622.85,687.38" fill="#138a13" />
<polygon points="627.8,683.67 629.9,687.27 625.7,687.27" fill="#e0f2e0" />
<polygon points="627.8,683.67 628.9,685.57 626.7,685.57" fill="#138a13" />
<polygon points="631.65,682.21 633.75,685.81 629.55,685.81" fill="#e0f2e0" />
<polygon points="631.65,682.21 632.75,684.11 630.55,684.11" fill="#138a13" />
<polygon points="635.5,680.78 637.6,684.38 633.4,684.38" fill="#e0f2e0" />
<polygon points="635.5,680.78 636.6,682.68 634.4,682.68" fill="#138a13" />
<polygon points="639.35,679.09 641.45,682.69 637.25,682.69" fill="#e0f2e0" />
<polygon points="639.35,679.09 640.45,680.99 638.25,680.99" fill="#138a13" />
<polygon points="643.2,677.28 645.3,680.88 641.1,680.88" fill="#e0f2e0" />
<polygon points="643.2,677.28 644.3,679.18 642.1,679.18" fill="#138a13" />
<polygon points="647.05,675.84 649.15,679.44 644.95,679.44" fill="#e0f2e0" />
<polygon points="647.05,675.84 648.15,677.74 645.95,677.74" fill="#138a13" />
<polygon points="650.9,674.8 653,678.4 648.8,678.4" fill="#e0f2e0" />
<polygon points="650.9,674.8 652,676.7 649.8,676.7" fill="#138a13" />
<polygon points="654.75,673.48 656.85,677.08 652.65,677.08" fill="#e0f2e0" />
<polygon points="654.75,673.48 655.85,675.38 653.65,675.38" fill="#138a13" />
<polygon points="658.6,671.42 660.7,675.02 656.5,675.02" fill="#e0f2e0" />
<polygon points="658.6,671.42 659.7,673.32 657.5,673.32" fill="#138a13" />
<polygon points="662.45,670.03 664.55,673.63 660.35,673.63" fill="#e0f2e0" />
<polygon points="662.45,670.03 663.55,671.93 661.35,671.93" fill="#138a13" />
<circle cx="427" cy="558.2" r="1.9" fill="#d8f4f4" stroke="#5ab4b4" stroke-width="0.4"/>
<path d="M425.1,558.2 A1.9,1.9 0 0 1 428.9,558.2 Z" fill="#1f8f8f"/>
<circle cx="430.85" cy="562.89" r="1.9" fill="#d8f4f4" stroke="#5ab4b4" stroke-width="0.4"/>
<path d="M428.95,562.89 A1.9,1.9 0 0 1 432.75,562.89 Z" fill="#1f8f8f"/>
<circle cx="434.7" cy="566.24" r="1.9" fill="#d8f4f4" stroke="#5ab4b4" stroke-width="0.4"/>
<path d="M432.8,566.24 A1.9,1.9 0 0 1 436.6,566.24 Z" fill="#1f8f8f"/>
<circle cx="438.55" cy="565.88" r="1.9" fill="#d8f4f4" stroke="#5ab4b4" stroke-width="0.4"/>
<path d="M436.65,565.88 A1.9,1.9 0 0 1 440.45,565.88 Z" fill="#1f8f8f"/>
<circle cx="442.4" cy="563.51" r="1.9" fill="#d8f4f4" stroke="#5ab4b4" stroke-width="0.4"/>
<path d="M440.5,563.51 A1.9,1.9 0 0 1 444.3,563.51 Z" fill="#1f8f8f"/>
<circle cx="446.25" cy="560.23" r="1.9" fill="#d8f4f4" stroke="#5ab4b4" stroke-width="0.4"/>
<path d="M444.35,560.23 A1.9,1.9 0 0 1 448.15,560.23 Z" fill="#1f8f8f"/>
<circle cx="450.1" cy="557.23" r="1.9" fill="#d8f4f4" stroke="#5ab4b4" stroke-width="0.4"/>
<path d="M448.2,557.23 A1.9,1.9 0 0 1 452,557.23 Z" fill="#1f8f8f"/>
<circle cx="453.95" cy="555.41" r="1.9" fill="#d8f4f4" stroke="#5ab4b4" stroke-width="0.4"/>
<path d="M452.05,555.41 A1.9,1.9 0 0 1 455.85,555.41 Z" fill="#1f8f8f"/>
<circle cx="457.8" cy="555.04" r="1.9" fill="#d8f4f4" stroke="#5ab4b4" stroke-width="0.4"/>
<path d="M455.9,555.04 A1.9,1.9 0 0 1 459.7,555.04 Z" fill="#1f8f8f"/>
<circle cx="461.65" cy="556" r="1.9" fill="#d8f4f4" stroke="#5ab4b4" stroke-width="0.4"/>
<path d="M459.75,556 A1.9,1.9 0 0 1 463.55,556 Z" fill="#1f8f8f"/>
<circle cx="465.5" cy="558.01" r="1.9" fill="#d8f4f4" stroke="#5ab4b4" stroke-width="0.4"/>
<path d="M463.6,558.01 A1.9,1.9 0 0 1 467.4,558.01 Z" fill="#1f8f8f"/>
<circle cx="469.35" cy="561.1" r="1.9" fill="#d8f4f4" stroke="#5ab4b4" stroke-width="0.4"/>
<path d="M467.45,561.1 A1.9,1.9 0 0 1 471.25,561.1 Z" fill="#1f8f8f"/>
<circle cx="473.2" cy="565.6" r="1.9" fill="#d8f4f4" stroke="#5ab4b4" stroke-width="0.4"/>
<path d="M471.3,565.6 A1.9,1.9 0 0 1 475.1,565.6 Z" fill="#1f8f8f"/>
<circle cx="477.05" cy="570.65" r="1.9" fill="#d8f4f4" stroke="#5ab4b4" stroke-width="0.4"/>
<path d="M475.15,570.65 A1.9,1.9 0 0 1 478.95,570.65 Z" fill="#1f8f8f"/>
<circle cx="480.9" cy="575.32" r="1.9" fill="#d8f4f4" stroke="#5ab4b4" stroke-width="0.4"/>
<path d="M479,575.32 A1.9,1.9 0 0 1 482.8,575.32 Z" fill="#1f8f8f"/>
<circle cx="484.75" cy="580.29" r="1.9" fill="#d8f4f4" stroke="#5ab4b4" stroke-width="0.4"/>
<path d="M482.85,580.29 A1.9,1.9 0 0 1 486.65,580.29 Z" fill="#1f8f8f"/>
<circle cx="488.6" cy="586.2" r="1.9" fill="#d8f4f4" stroke="#5ab4b4" stroke-width="0.4"/>
<path d="M486.7,586.2 A1.9,1.9 0 0 1 490.5,586.2 Z" fill="#1f8f8f"/>
<circle cx="492.45" cy="591.86" r="1.9" fill="#d8f4f4" stroke="#5ab4b4" stroke-width="0.4"/>
<path d="M490.55,591.86 A1.9,1.9 0 0 1 494.35,591.86 Z" fill="#1f8f8f"/>
<circle cx="496.3" cy="596.89" r="1.9" fill="#d8f4f4" stroke="#5ab4b4" stroke-width="0.4"/>
<path d="M494.4,596.89 A1.9,1.9 0 0 1 498.2,596.89 Z" fill="#1f8f8f"/>
<circle cx="500.15" cy="602.34" r="1.9" fill="#d8f4f4" stroke="#5ab4b4" stroke-width="0.4"/>
<path d="M498.25,602.34 A1.9,1.9 0 0 1 502.05,602.34 Z" fill="#1f8f8f"/>
<circle cx="504" cy="608.08" r="1.9" fill="#d8f4f4" stroke="#5ab4b4" stroke-width="0.4"/>
<path d="M502.1,608.08 A1.9,1.9 0 0 1 505.9,608.08 Z" fill="#1f8f8f"/>
<circle cx="507.85" cy="613.83" r="1.9" fill="#d8f4f4" stroke="#5ab4b4" stroke-width="0.4"/>
<path d="M505.95,613.83 A1.9,1.9 0 0 1 509.75,613.83 Z" fill="#1f8f8f"/>
<circle cx="511.7" cy="619.37" r="1.9" fill="#d8f4f4" stroke="#5ab4b4" stroke-width="0.4"/>
<path d="M509.8,619.37 A1.9,1.9 0 0 1 513.6,619.37 Z" fill="#1f8f8f"/>
<circle cx="515.55" cy="624.78" r="1.9" fill="#d8f4f4" stroke="#5ab4b4" stroke-width="0.4"/>
<path d="M513.65,624.78 A1.9,1.9 0 0 1 517.45,624.78 Z" fill="#1f8f8f"/>
<circle cx="519.4" cy="629.52" r="1.9" fill="#d8f4f4" stroke="#5ab4b4" stroke-width="0.4"/>
<path d="M517.5,629.52 A1.9,1.9 0 0 1 521.3,629.52 Z" fill="#1f8f8f"/>
<circle cx="523.25" cy="633.98" r="1.9" fill="#d8f4f4" stroke="#5ab4b4" stroke-width="0.4"/>
<path d="M521.35,633.98 A1.9,1.9 0 0 1 525.15,633.98 Z" fill="#1f8f8f"/>
<circle cx="527.1" cy="638.59" r="1.9" fill="#d8f4f4" stroke="#5ab4b4" stroke-width="0.4"/>
<path d="M525.2,638.59 A1.9,1.9 0 0 1 529,638.59 Z" fill="#1f8f8f"/>
<circle cx="530.95" cy="643.45" r="1.9" fill="#d8f4f4" stroke="#5ab4b4" stroke-width="0.4"/>
<path d="M529.05,643.45 A1.9,1.9 0 0 1 532.85,643.45 Z" fill="#1f8f8f"/>
<circle cx="534.8" cy="648.24" r="1.9" fill="#d8f4f4" stroke="#5ab4b4" stroke-width="0.4"/>
<path d="M532.9,648.24 A1.9,1.9 0 0 1 536.7,648.24 Z" fill="#1f8f8f"/>
<circle cx="538.65" cy="652.43" r="1.9" fill="#d8f4f4" stroke="#5ab4b4" stroke-width="0.4"/>
<path d="M536.75,652.43 A1.9,1.9 0 0 1 540.55,652.43 Z" fill="#1f8f8f"/>
<circle cx="542.5" cy="656.63" r="1.9" fill="#d8f4f4" stroke="#5ab4b4" stroke-width="0.4"/>
<path d="M540.6,656.63 A1.9,1.9 0 0 1 544.4,656.63 Z" fill="#1f8f8f"/>
<circle cx="546.35" cy="660.55" r="1.9" fill="#d8f4f4" stroke="#5ab4b4" stroke-width="0.4"/>
<path d="M544.45,660.55 A1.9,1.9 0 0 1 548.25,660.55 Z" fill="#1f8f8f"/>
<circle cx="550.2" cy="664.4" r="1.9" fill="#d8f4f4" stroke="#5ab4b4" stroke-width="0.4"/>
<path d="M548.3,664.4 A1.9,1.9 0 0 1 552.1,664.4 Z" fill="#1f8f8f"/>
<circle cx="554.05" cy="667.94" r="1.9" fill="#d8f4f4" stroke="#5ab4b4" stroke-width="0.4"/>
<path d="M552.15,667.94 A1.9,1.9 0 0 1 555.95,667.94 Z" fill="#1f8f8f"/>
<circle cx="557.9" cy="671.14" r="1.9" fill="#d8f4f4" stroke="#5ab4b4" stroke-width="0.4"/>
<path d="M556,671.14 A1.9,1.9 0 0 1 559.8,671.14 Z" fill="#1f8f8f"/>
<circle cx="561.75" cy="674.34" r="1.9" fill="#d8f4f4" stroke="#5ab4b4" stroke-width="0.4"/>
<path d="M559.85,674.34 A1.9,1.9 0 0 1 563.65,674.34 Z" fill="#1f8f8f"/>
<circle cx="565.6" cy="677.54" r="1.9" fill="#d8f4f4" stroke="#5ab4b4" stroke-width="0.4"/>
<path d="M563.7,677.54 A1.9,1.9 0 0 1 567.5,677.54 Z" fill="#1f8f8f"/>
<circle cx="569.45" cy="680.74" r="1.9" fill="#d8f4f4" stroke="#5ab4b4" stroke-width="0.4"/>
<path d="M567.55,680.74 A1.9,1.9 0 0 1 571.35,680.74 Z" fill="#1f8f8f"/>
<circle cx="573.3" cy="683.39" r="1.9" fill="#d8f4f4" stroke="#5ab4b4" stroke-width="0.4"/>
<path d="M571.4,683.39 A1.9,1.9 0 0 1 575.2,683.39 Z" fill="#1f8f8f"/>
<circle cx="577.15" cy="685.94" r="1.9" fill="#d8f4f4" stroke="#5ab4b4" stroke-width="0.4"/>
<path d="M575.25,685.94 A1.9,1.9 0 0 1 579.05,685.94 Z" fill="#1f8f8f"/>
<circle cx="581" cy="688.14" r="1.9" fill="#d8f4f4" stroke="#5ab4b4" stroke-width="0.4"/>
<path d="M579.1,688.14 A1.9,1.9 0 0 1 582.9,688.14 Z" fill="#1f8f8f"/>
<circle cx="584.85" cy="690.04" r="1.9" fill="#d8f4f4" stroke="#5ab4b4" stroke-width="0.4"/>
<path d="M582.95,690.04 A1.9,1.9 0 0 1 586.75,690.04 Z" fill="#1f8f8f"/>
<circle cx="588.7" cy="691.8" r="1.9" fill="#d8f4f4" stroke="#5ab4b4" stroke-width="0.4"/>
<path d="M586.8,691.8 A1.9,1.9 0 0 1 590.6,691.8 Z" fill="#1f8f8f"/>
<circle cx="592.55" cy="693.08" r="1.9" fill="#d8f4f4" stroke="#5ab4b4" stroke-width="0.4"/>
<path d="M590.65,693.08 A1.9,1.9 0 0 1 594.45,693.08 Z" fill="#1f8f8f"/>
<circle cx="596.4" cy="694.06" r="1.9" fill="#d8f4f4" stroke="#5ab4b4" stroke-width="0.4"/>
<path d="M594.5,694.06 A1.9,1.9 0 0 1 598.3,694.06 Z" fill="#1f8f8f"/>
<circle cx="600.25" cy="694.83" r="1.9" fill="#d8f4f4" stroke="#5ab4b4" stroke-width="0.4"/>
<path d="M598.35,694.83 A1.9,1.9 0 0 1 602.15,694.83 Z" fill="#1f8f8f"/>
<circle cx="604.1" cy="695.25" r="1.9" fill="#d8f4f4" stroke="#5ab4b4" stroke-width="0.4"/>
<path d="M602.2,695.25 A1.9,1.9 0 0 1 606,695.25 Z" fill="#1f8f8f"/>
<circle cx="607.95" cy="695.11" r="1.9" fill="#d8f4f4" stroke="#5ab4b4" stroke-width="0.4"/>
<path d="M606.05,695.11 A1.9,1.9 0 0 1 609.85,695.11 Z" fill="#1f8f8f"/>
<circle cx="611.8" cy="694.82" r="1.9" fill="#d8f4f4" stroke="#5ab4b4" stroke-width="0.4"/>
<path d="M609.9,694.82 A1.9,1.9 0 0 1 613.7,694.82 Z" fill="#1f8f8f"/>
<circle cx="615.65" cy="693.82" r="1.9" fill="#d8f4f4" stroke="#5ab4b4" stroke-width="0.4"/>
<path d="M613.75,693.82 A1.9,1.9 0 0 1 617.55,693.82 Z" fill="#1f8f8f"/>
<circle cx="619.5" cy="692.83" r="1.9" fill="#d8f4f4" stroke="#5ab4b4" stroke-width="0.4"/>
<path d="M617.6,692.83 A1.9,1.9 0 0 1 621.4,692.83 Z" fill="#1f8f8f"/>
<circle cx="623.35" cy="691.3" r="1.9" fill="#d8f4f4" stroke="#5ab4b4" stroke-width="0.4"/>
<path d="M621.45,691.3 A1.9,1.9 0 0 1 625.25,691.3 Z" fill="#1f8f8f"/>
<circle cx="627.2" cy="689.76" r="1.9" fill="#d8f4f4" stroke="#5ab4b4" stroke-width="0.4"/>
<path d="M625.3,689.76 A1.9,1.9 0 0 1 629.1,689.76 Z" fill="#1f8f8f"/>
<circle cx="631.05" cy="688.51" r="1.9" fill="#d8f4f4" stroke="#5ab4b4" stroke-width="0.4"/>
<path d="M629.15,688.51 A1.9,1.9 0 0 1 632.95,688.51 Z" fill="#1f8f8f"/>
<circle cx="634.9" cy="687.34" r="1.9" fill="#d8f4f4" stroke="#5ab4b4" stroke-width="0.4"/>
<path d="M633,687.34 A1.9,1.9 0 0 1 636.8,687.34 Z" fill="#1f8f8f"/>
<circle cx="638.75" cy="685.98" r="1.9" fill="#d8f4f4" stroke="#5ab4b4" stroke-width="0.4"/>
<path d="M636.85,685.98 A1.9,1.9 0 0 1 640.65,685.98 Z" fill="#1f8f8f"/>
<circle cx="642.6" cy="684.44" r="1.9" fill="#d8f4f4" stroke="#5ab4b4" stroke-width="0.4"/>
<path d="M640.7,684.44 A1.9,1.9 0 0 1 644.5,684.44 Z" fill="#1f8f8f"/>
<circle cx="646.45" cy="683.15" r="1.9" fill="#d8f4f4" stroke="#5ab4b4" stroke-width="0.4"/>
<path d="M644.55,683.15 A1.9,1.9 0 0 1 648.35,683.15 Z" fill="#1f8f8f"/>
<circle cx="650.3" cy="682.38" r="1.9" fill="#d8f4f4" stroke="#5ab4b4" stroke-width="0.4"/>
<path d="M648.4,682.38 A1.9,1.9 0 0 1 652.2,682.38 Z" fill="#1f8f8f"/>
<circle cx="654.15" cy="681.49" r="1.9" fill="#d8f4f4" stroke="#5ab4b4" stroke-width="0.4"/>
<path d="M652.25,681.49 A1.9,1.9 0 0 1 656.05,681.49 Z" fill="#1f8f8f"/>
<circle cx="658" cy="679.7" r="1.9" fill="#d8f4f4" stroke="#5ab4b4" stroke-width="0.4"/>
<path d="M656.1,679.7 A1.9,1.9 0 0 1 659.9,679.7 Z" fill="#1f8f8f"/>
<circle cx="661.85" cy="678.3" r="1.9" fill="#d8f4f4" stroke="#5ab4b4" stroke-width="0.4"/>
<path d="M659.95,678.3 A1.9,1.9 0 0 1 663.75,678.3 Z" fill="#1f8f8f"/>
</g>
<text x="453.4" y="493.12" transform="scale(1,1.09)" font-size="18.9">τ<tspan font-size="10.5" dy="7.34">α</tspan><tspan dy="-7.34">=1.18 s</tspan></text>
<text x="583.2" y="497.06" transform="scale(1,1.09)" font-size="21.4">ε"/ ε"<tspan font-size="13.2" dy="7.16">max</tspan></text>
<text x="435.6" y="640.00" transform="scale(1,1.09)" font-size="18.3" fill="#000" text-anchor="start" >(c)</text>
<text x="495.7" y="635.87" transform="scale(1,1.09)" font-size="18" fill="#000" text-anchor="start" >f [Hz]</text>
<rect x="538.9" y="591.1" width="8.8" height="8.6" fill="#fff" stroke="#1f8c8c" stroke-width="1.2"/>
<rect x="538.9" y="591.1" width="8.8" height="4.3" fill="#1f8c8c"/>
<polygon points="543.8,603.6 550.2,610 537.4,610" fill="#800000" />
<polygon points="550.2,610 543.8,616.4 537.4,610" fill="#fff" stroke="#800000" stroke-width="1.1"/>
<polygon points="543.7,618 549.7,628.4 537.7,628.4" fill="#fff" stroke="#008000" stroke-width="1.1"/>
<polygon points="543.7,618 546.8,623.6 540.6,623.6" fill="#008000" />
<text x="560.6" y="549.72" transform="scale(1,1.09)" font-size="11.9">238 K, 10<tspan font-size="7.5" dy="-3.94">-4</tspan><tspan dy="3.94">GPa</tspan></text>
<text x="560.6" y="562.75" transform="scale(1,1.09)" font-size="11.9" fill="#000" text-anchor="start" >260 K, 0.2 GPa</text>
<text x="560.6" y="576.33" transform="scale(1,1.09)" font-size="11.9" fill="#000" text-anchor="start" >293 K, 0.6 GPa</text>
<rect x="423.7" y="746.3" width="238.3" height="184.7" fill="none" stroke="#777" stroke-width="1.1"/>
<line x1="423.7" y1="931" x2="423.7" y2="928" stroke="#777" stroke-width="0.9" />
<line x1="438.05" y1="931" x2="438.05" y2="929.2" stroke="#777" stroke-width="0.9" />
<line x1="446.44" y1="931" x2="446.44" y2="929.2" stroke="#777" stroke-width="0.9" />
<line x1="452.39" y1="931" x2="452.39" y2="929.2" stroke="#777" stroke-width="0.9" />
<line x1="457.01" y1="931" x2="457.01" y2="929.2" stroke="#777" stroke-width="0.9" />
<line x1="460.79" y1="931" x2="460.79" y2="929.2" stroke="#777" stroke-width="0.9" />
<line x1="463.98" y1="931" x2="463.98" y2="929.2" stroke="#777" stroke-width="0.9" />
<line x1="466.74" y1="931" x2="466.74" y2="929.2" stroke="#777" stroke-width="0.9" />
<line x1="469.18" y1="931" x2="469.18" y2="929.2" stroke="#777" stroke-width="0.9" />
<line x1="471.36" y1="931" x2="471.36" y2="928" stroke="#777" stroke-width="0.9" />
<line x1="485.71" y1="931" x2="485.71" y2="929.2" stroke="#777" stroke-width="0.9" />
<line x1="494.1" y1="931" x2="494.1" y2="929.2" stroke="#777" stroke-width="0.9" />
<line x1="500.05" y1="931" x2="500.05" y2="929.2" stroke="#777" stroke-width="0.9" />
<line x1="504.67" y1="931" x2="504.67" y2="929.2" stroke="#777" stroke-width="0.9" />
<line x1="508.45" y1="931" x2="508.45" y2="929.2" stroke="#777" stroke-width="0.9" />
<line x1="511.64" y1="931" x2="511.64" y2="929.2" stroke="#777" stroke-width="0.9" />
<line x1="514.4" y1="931" x2="514.4" y2="929.2" stroke="#777" stroke-width="0.9" />
<line x1="516.84" y1="931" x2="516.84" y2="929.2" stroke="#777" stroke-width="0.9" />
<line x1="519.02" y1="931" x2="519.02" y2="928" stroke="#777" stroke-width="0.9" />
<line x1="533.37" y1="931" x2="533.37" y2="929.2" stroke="#777" stroke-width="0.9" />
<line x1="541.76" y1="931" x2="541.76" y2="929.2" stroke="#777" stroke-width="0.9" />
<line x1="547.71" y1="931" x2="547.71" y2="929.2" stroke="#777" stroke-width="0.9" />
<line x1="552.33" y1="931" x2="552.33" y2="929.2" stroke="#777" stroke-width="0.9" />
<line x1="556.11" y1="931" x2="556.11" y2="929.2" stroke="#777" stroke-width="0.9" />
<line x1="559.3" y1="931" x2="559.3" y2="929.2" stroke="#777" stroke-width="0.9" />
<line x1="562.06" y1="931" x2="562.06" y2="929.2" stroke="#777" stroke-width="0.9" />
<line x1="564.5" y1="931" x2="564.5" y2="929.2" stroke="#777" stroke-width="0.9" />
<line x1="566.68" y1="931" x2="566.68" y2="928" stroke="#777" stroke-width="0.9" />
<line x1="581.03" y1="931" x2="581.03" y2="929.2" stroke="#777" stroke-width="0.9" />
<line x1="589.42" y1="931" x2="589.42" y2="929.2" stroke="#777" stroke-width="0.9" />
<line x1="595.37" y1="931" x2="595.37" y2="929.2" stroke="#777" stroke-width="0.9" />
<line x1="599.99" y1="931" x2="599.99" y2="929.2" stroke="#777" stroke-width="0.9" />
<line x1="603.77" y1="931" x2="603.77" y2="929.2" stroke="#777" stroke-width="0.9" />
<line x1="606.96" y1="931" x2="606.96" y2="929.2" stroke="#777" stroke-width="0.9" />
<line x1="609.72" y1="931" x2="609.72" y2="929.2" stroke="#777" stroke-width="0.9" />
<line x1="612.16" y1="931" x2="612.16" y2="929.2" stroke="#777" stroke-width="0.9" />
<line x1="614.34" y1="931" x2="614.34" y2="928" stroke="#777" stroke-width="0.9" />
<line x1="628.69" y1="931" x2="628.69" y2="929.2" stroke="#777" stroke-width="0.9" />
<line x1="637.08" y1="931" x2="637.08" y2="929.2" stroke="#777" stroke-width="0.9" />
<line x1="643.03" y1="931" x2="643.03" y2="929.2" stroke="#777" stroke-width="0.9" />
<line x1="647.65" y1="931" x2="647.65" y2="929.2" stroke="#777" stroke-width="0.9" />
<line x1="651.43" y1="931" x2="651.43" y2="929.2" stroke="#777" stroke-width="0.9" />
<line x1="654.62" y1="931" x2="654.62" y2="929.2" stroke="#777" stroke-width="0.9" />
<line x1="657.38" y1="931" x2="657.38" y2="929.2" stroke="#777" stroke-width="0.9" />
<line x1="659.82" y1="931" x2="659.82" y2="929.2" stroke="#777" stroke-width="0.9" />
<line x1="423.7" y1="930.47" x2="425.5" y2="930.47" stroke="#777" stroke-width="0.9" />
<line x1="662" y1="930.47" x2="660.2" y2="930.47" stroke="#777" stroke-width="0.9" />
<line x1="423.7" y1="921.4" x2="425.5" y2="921.4" stroke="#777" stroke-width="0.9" />
<line x1="662" y1="921.4" x2="660.2" y2="921.4" stroke="#777" stroke-width="0.9" />
<line x1="423.7" y1="913.74" x2="425.5" y2="913.74" stroke="#777" stroke-width="0.9" />
<line x1="662" y1="913.74" x2="660.2" y2="913.74" stroke="#777" stroke-width="0.9" />
<line x1="423.7" y1="907.1" x2="425.5" y2="907.1" stroke="#777" stroke-width="0.9" />
<line x1="662" y1="907.1" x2="660.2" y2="907.1" stroke="#777" stroke-width="0.9" />
<line x1="423.7" y1="901.24" x2="425.5" y2="901.24" stroke="#777" stroke-width="0.9" />
<line x1="662" y1="901.24" x2="660.2" y2="901.24" stroke="#777" stroke-width="0.9" />
<line x1="423.7" y1="896" x2="426.7" y2="896" stroke="#777" stroke-width="0.9" />
<line x1="662" y1="896" x2="659" y2="896" stroke="#777" stroke-width="0.9" />
<line x1="423.7" y1="861.53" x2="425.5" y2="861.53" stroke="#777" stroke-width="0.9" />
<line x1="662" y1="861.53" x2="660.2" y2="861.53" stroke="#777" stroke-width="0.9" />
<line x1="423.7" y1="841.37" x2="425.5" y2="841.37" stroke="#777" stroke-width="0.9" />
<line x1="662" y1="841.37" x2="660.2" y2="841.37" stroke="#777" stroke-width="0.9" />
<line x1="423.7" y1="827.06" x2="425.5" y2="827.06" stroke="#777" stroke-width="0.9" />
<line x1="662" y1="827.06" x2="660.2" y2="827.06" stroke="#777" stroke-width="0.9" />
<line x1="423.7" y1="815.97" x2="425.5" y2="815.97" stroke="#777" stroke-width="0.9" />
<line x1="662" y1="815.97" x2="660.2" y2="815.97" stroke="#777" stroke-width="0.9" />
<line x1="423.7" y1="806.9" x2="425.5" y2="806.9" stroke="#777" stroke-width="0.9" />
<line x1="662" y1="806.9" x2="660.2" y2="806.9" stroke="#777" stroke-width="0.9" />
<line x1="423.7" y1="799.24" x2="425.5" y2="799.24" stroke="#777" stroke-width="0.9" />
<line x1="662" y1="799.24" x2="660.2" y2="799.24" stroke="#777" stroke-width="0.9" />
<line x1="423.7" y1="792.6" x2="425.5" y2="792.6" stroke="#777" stroke-width="0.9" />
<line x1="662" y1="792.6" x2="660.2" y2="792.6" stroke="#777" stroke-width="0.9" />
<line x1="423.7" y1="786.74" x2="425.5" y2="786.74" stroke="#777" stroke-width="0.9" />
<line x1="662" y1="786.74" x2="660.2" y2="786.74" stroke="#777" stroke-width="0.9" />
<line x1="423.7" y1="781.5" x2="426.7" y2="781.5" stroke="#777" stroke-width="0.9" />
<line x1="662" y1="781.5" x2="659" y2="781.5" stroke="#777" stroke-width="0.9" />
<line x1="423.7" y1="747.03" x2="425.5" y2="747.03" stroke="#777" stroke-width="0.9" />
<line x1="662" y1="747.03" x2="660.2" y2="747.03" stroke="#777" stroke-width="0.9" />
<text x="424.2" y="873.21" transform="scale(1,1.09)" font-size="18.8" text-anchor="middle">10<tspan font-size="11.5" dy="-6.97">1</tspan></text>
<text x="471.86" y="873.21" transform="scale(1,1.09)" font-size="18.8" text-anchor="middle">10<tspan font-size="11.5" dy="-6.97">2</tspan></text>
<text x="519.52" y="873.21" transform="scale(1,1.09)" font-size="18.8" text-anchor="middle">10<tspan font-size="11.5" dy="-6.97">3</tspan></text>
<text x="567.18" y="873.21" transform="scale(1,1.09)" font-size="18.8" text-anchor="middle">10<tspan font-size="11.5" dy="-6.97">4</tspan></text>
<text x="614.84" y="873.21" transform="scale(1,1.09)" font-size="18.8" text-anchor="middle">10<tspan font-size="11.5" dy="-6.97">5</tspan></text>
<text x="662.5" y="873.21" transform="scale(1,1.09)" font-size="18.8" text-anchor="middle">10<tspan font-size="11.5" dy="-6.97">6</tspan></text>
<text x="545.3" y="896.33" transform="scale(1,1.09)" font-size="18.3" fill="#000" text-anchor="middle" >f [Hz]</text>
<text x="448.0" y="705.32" transform="scale(1,1.09)" font-size="18.5">τ<tspan font-size="10.5" dy="7.34">α</tspan><tspan dy="-7.34">=1.63·10</tspan><tspan font-size="11.5" dy="-8.26">-4</tspan><tspan dy="8.26"> s</tspan></text>
<text x="585.0" y="709.54" transform="scale(1,1.09)" font-size="21.4">ε"/ ε"<tspan font-size="13.2" dy="7.61">max</tspan></text>
<text x="428.8" y="844.59" transform="scale(1,1.09)" font-size="19.3" fill="#000" text-anchor="start" >(d)</text>
<clipPath id="cd"><rect x="423.7" y="746.3" width="238.3" height="184.7"/></clipPath>
<g clip-path="url(#cd)">
<rect x="422.3" y="767.5" width="3.2" height="3.2" fill="#e4e4e4" stroke="#aaa" stroke-width="0.5"/>
<rect x="422.1" y="767.3" width="3.6" height="1.8" fill="#333"/>
<rect x="426.4" y="776.3" width="3.2" height="3.2" fill="#e4e4e4" stroke="#aaa" stroke-width="0.5"/>
<rect x="426.2" y="776.1" width="3.6" height="1.8" fill="#333"/>
<rect x="430" y="784.6" width="3.2" height="3.2" fill="#e4e4e4" stroke="#aaa" stroke-width="0.5"/>
<rect x="429.8" y="784.4" width="3.6" height="1.8" fill="#333"/>
<rect x="434" y="792.3" width="3.2" height="3.2" fill="#e4e4e4" stroke="#aaa" stroke-width="0.5"/>
<rect x="433.8" y="792.1" width="3.6" height="1.8" fill="#333"/>
<rect x="437.6" y="800.3" width="3.2" height="3.2" fill="#e4e4e4" stroke="#aaa" stroke-width="0.5"/>
<rect x="437.4" y="800.1" width="3.6" height="1.8" fill="#333"/>
<rect x="441.5" y="807" width="3.2" height="3.2" fill="#e4e4e4" stroke="#aaa" stroke-width="0.5"/>
<rect x="441.3" y="806.8" width="3.6" height="1.8" fill="#333"/>
<rect x="445.1" y="813.6" width="3.2" height="3.2" fill="#e4e4e4" stroke="#aaa" stroke-width="0.5"/>
<rect x="444.9" y="813.4" width="3.6" height="1.8" fill="#333"/>
<rect x="449.2" y="819.5" width="3.2" height="3.2" fill="#e4e4e4" stroke="#aaa" stroke-width="0.5"/>
<rect x="449" y="819.3" width="3.6" height="1.8" fill="#333"/>
<rect x="452.7" y="824.3" width="3.2" height="3.2" fill="#e4e4e4" stroke="#aaa" stroke-width="0.5"/>
<rect x="452.5" y="824.1" width="3.6" height="1.8" fill="#333"/>
<rect x="456.3" y="827.8" width="3.2" height="3.2" fill="#e4e4e4" stroke="#aaa" stroke-width="0.5"/>
<rect x="456.1" y="827.6" width="3.6" height="1.8" fill="#333"/>
<rect x="460.2" y="830" width="3.2" height="3.2" fill="#e4e4e4" stroke="#aaa" stroke-width="0.5"/>
<rect x="460" y="829.8" width="3.6" height="1.8" fill="#333"/>
<rect x="464.3" y="830.2" width="3.2" height="3.2" fill="#e4e4e4" stroke="#aaa" stroke-width="0.5"/>
<rect x="464.1" y="830" width="3.6" height="1.8" fill="#333"/>
<rect x="467.8" y="829.3" width="3.2" height="3.2" fill="#e4e4e4" stroke="#aaa" stroke-width="0.5"/>
<rect x="467.6" y="829.1" width="3.6" height="1.8" fill="#333"/>
<rect x="471.7" y="826.6" width="3.2" height="3.2" fill="#e4e4e4" stroke="#aaa" stroke-width="0.5"/>
<rect x="471.5" y="826.4" width="3.6" height="1.8" fill="#333"/>
<rect x="475.3" y="823" width="3.2" height="3.2" fill="#e4e4e4" stroke="#aaa" stroke-width="0.5"/>
<rect x="475.1" y="822.8" width="3.6" height="1.8" fill="#333"/>
<rect x="479.4" y="819" width="3.2" height="3.2" fill="#e4e4e4" stroke="#aaa" stroke-width="0.5"/>
<rect x="479.2" y="818.8" width="3.6" height="1.8" fill="#333"/>
<rect x="483.3" y="813.6" width="3.2" height="3.2" fill="#e4e4e4" stroke="#aaa" stroke-width="0.5"/>
<rect x="483.1" y="813.4" width="3.6" height="1.8" fill="#333"/>
<rect x="486.8" y="808.3" width="3.2" height="3.2" fill="#e4e4e4" stroke="#aaa" stroke-width="0.5"/>
<rect x="486.6" y="808.1" width="3.6" height="1.8" fill="#333"/>
<rect x="490.9" y="802.4" width="3.2" height="3.2" fill="#e4e4e4" stroke="#aaa" stroke-width="0.5"/>
<rect x="490.7" y="802.2" width="3.6" height="1.8" fill="#333"/>
<rect x="494.5" y="797.3" width="3.2" height="3.2" fill="#e4e4e4" stroke="#aaa" stroke-width="0.5"/>
<rect x="494.3" y="797.1" width="3.6" height="1.8" fill="#333"/>
<rect x="498.4" y="791" width="3.2" height="3.2" fill="#e4e4e4" stroke="#aaa" stroke-width="0.5"/>
<rect x="498.2" y="790.8" width="3.6" height="1.8" fill="#333"/>
<rect x="502" y="787.5" width="3.2" height="3.2" fill="#e4e4e4" stroke="#aaa" stroke-width="0.5"/>
<rect x="501.8" y="787.3" width="3.6" height="1.8" fill="#333"/>
<rect x="506" y="782.9" width="3.2" height="3.2" fill="#e4e4e4" stroke="#aaa" stroke-width="0.5"/>
<rect x="505.8" y="782.7" width="3.6" height="1.8" fill="#333"/>
<rect x="510" y="780.4" width="3.2" height="3.2" fill="#e4e4e4" stroke="#aaa" stroke-width="0.5"/>
<rect x="509.8" y="780.2" width="3.6" height="1.8" fill="#333"/>
<rect x="513.9" y="779.3" width="3.2" height="3.2" fill="#e4e4e4" stroke="#aaa" stroke-width="0.5"/>
<rect x="513.7" y="779.1" width="3.6" height="1.8" fill="#333"/>
<rect x="517.6" y="779.8" width="3.2" height="3.2" fill="#e4e4e4" stroke="#aaa" stroke-width="0.5"/>
<rect x="517.4" y="779.6" width="3.6" height="1.8" fill="#333"/>
<rect x="521.5" y="781.3" width="3.2" height="3.2" fill="#e4e4e4" stroke="#aaa" stroke-width="0.5"/>
<rect x="521.3" y="781.1" width="3.6" height="1.8" fill="#333"/>
<rect x="525.1" y="783.9" width="3.2" height="3.2" fill="#e4e4e4" stroke="#aaa" stroke-width="0.5"/>
<rect x="524.9" y="783.7" width="3.6" height="1.8" fill="#333"/>
<rect x="528.6" y="785.2" width="3.2" height="3.2" fill="#e4e4e4" stroke="#aaa" stroke-width="0.5"/>
<rect x="528.4" y="785" width="3.6" height="1.8" fill="#333"/>
<rect x="532.2" y="787.8" width="3.2" height="3.2" fill="#e4e4e4" stroke="#aaa" stroke-width="0.5"/>
<rect x="532" y="787.6" width="3.6" height="1.8" fill="#333"/>
<rect x="536" y="791.4" width="3.2" height="3.2" fill="#e4e4e4" stroke="#aaa" stroke-width="0.5"/>
<rect x="535.8" y="791.2" width="3.6" height="1.8" fill="#333"/>
<rect x="543.4" y="799.4" width="3.2" height="3.2" fill="#e4e4e4" stroke="#aaa" stroke-width="0.5"/>
<rect x="543.2" y="799.2" width="3.6" height="1.8" fill="#333"/>
<rect x="550.8" y="808.4" width="3.2" height="3.2" fill="#e4e4e4" stroke="#aaa" stroke-width="0.5"/>
<rect x="550.6" y="808.2" width="3.6" height="1.8" fill="#333"/>
<rect x="558.4" y="818.4" width="3.2" height="3.2" fill="#e4e4e4" stroke="#aaa" stroke-width="0.5"/>
<rect x="558.2" y="818.2" width="3.6" height="1.8" fill="#333"/>
<rect x="566" y="828.4" width="3.2" height="3.2" fill="#e4e4e4" stroke="#aaa" stroke-width="0.5"/>
<rect x="565.8" y="828.2" width="3.6" height="1.8" fill="#333"/>
<rect x="569.8" y="833.4" width="3.2" height="3.2" fill="#e4e4e4" stroke="#aaa" stroke-width="0.5"/>
<rect x="569.6" y="833.2" width="3.6" height="1.8" fill="#333"/>
<rect x="577.4" y="843.8" width="3.2" height="3.2" fill="#e4e4e4" stroke="#aaa" stroke-width="0.5"/>
<rect x="577.2" y="843.6" width="3.6" height="1.8" fill="#333"/>
<rect x="585" y="854.4" width="3.2" height="3.2" fill="#e4e4e4" stroke="#aaa" stroke-width="0.5"/>
<rect x="584.8" y="854.2" width="3.6" height="1.8" fill="#333"/>
<rect x="592.4" y="863.8" width="3.2" height="3.2" fill="#e4e4e4" stroke="#aaa" stroke-width="0.5"/>
<rect x="592.2" y="863.6" width="3.6" height="1.8" fill="#333"/>
<rect x="600" y="874" width="3.2" height="3.2" fill="#e4e4e4" stroke="#aaa" stroke-width="0.5"/>
<rect x="599.8" y="873.8" width="3.6" height="1.8" fill="#333"/>
<rect x="604" y="878.8" width="3.2" height="3.2" fill="#e4e4e4" stroke="#aaa" stroke-width="0.5"/>
<rect x="603.8" y="878.6" width="3.6" height="1.8" fill="#333"/>
<rect x="611.4" y="887.4" width="3.2" height="3.2" fill="#e4e4e4" stroke="#aaa" stroke-width="0.5"/>
<rect x="611.2" y="887.2" width="3.6" height="1.8" fill="#333"/>
<rect x="619" y="895.8" width="3.2" height="3.2" fill="#e4e4e4" stroke="#aaa" stroke-width="0.5"/>
<rect x="618.8" y="895.6" width="3.6" height="1.8" fill="#333"/>
<rect x="626.4" y="904.4" width="3.2" height="3.2" fill="#e4e4e4" stroke="#aaa" stroke-width="0.5"/>
<rect x="626.2" y="904.2" width="3.6" height="1.8" fill="#333"/>
<rect x="634" y="911.4" width="3.2" height="3.2" fill="#e4e4e4" stroke="#aaa" stroke-width="0.5"/>
<rect x="633.8" y="911.2" width="3.6" height="1.8" fill="#333"/>
<rect x="638" y="915" width="3.2" height="3.2" fill="#e4e4e4" stroke="#aaa" stroke-width="0.5"/>
<rect x="637.8" y="914.8" width="3.6" height="1.8" fill="#333"/>
<rect x="645.4" y="920.8" width="3.2" height="3.2" fill="#e4e4e4" stroke="#aaa" stroke-width="0.5"/>
<rect x="645.2" y="920.6" width="3.6" height="1.8" fill="#333"/>
<rect x="653.4" y="926.4" width="3.2" height="3.2" fill="#e4e4e4" stroke="#aaa" stroke-width="0.5"/>
<rect x="653.2" y="926.2" width="3.6" height="1.8" fill="#333"/>
<polygon points="425.3,752 423.39,753.1 423.39,755.3 425.3,756.4 427.21,755.3 427.21,753.1" fill="#ffd8b0" />
<path d="M423.4,754.2 L423.4,753.1 L425.3,752 L427.2,753.1 L427.2,754.2 Z" fill="#ff7f00"/>
<polygon points="433.9,770.9 431.99,772 431.99,774.2 433.9,775.3 435.81,774.2 435.81,772" fill="#ffd8b0" />
<path d="M432,773.1 L432,772 L433.9,770.9 L435.8,772 L435.8,773.1 Z" fill="#ff7f00"/>
<polygon points="442.2,788.7 440.29,789.8 440.29,792 442.2,793.1 444.11,792 444.11,789.8" fill="#ffd8b0" />
<path d="M440.3,790.9 L440.3,789.8 L442.2,788.7 L444.1,789.8 L444.1,790.9 Z" fill="#ff7f00"/>
<polygon points="450.6,804.1 448.69,805.2 448.69,807.4 450.6,808.5 452.51,807.4 452.51,805.2" fill="#ffd8b0" />
<path d="M448.7,806.3 L448.7,805.2 L450.6,804.1 L452.5,805.2 L452.5,806.3 Z" fill="#ff7f00"/>
<polygon points="459.1,815.3 457.19,816.4 457.19,818.6 459.1,819.7 461.01,818.6 461.01,816.4" fill="#ffd8b0" />
<path d="M457.2,817.5 L457.2,816.4 L459.1,815.3 L461,816.4 L461,817.5 Z" fill="#ff7f00"/>
<polygon points="467.6,820.7 465.69,821.8 465.69,824 467.6,825.1 469.51,824 469.51,821.8" fill="#ffd8b0" />
<path d="M465.7,822.9 L465.7,821.8 L467.6,820.7 L469.5,821.8 L469.5,822.9 Z" fill="#ff7f00"/>
<polygon points="476,818.4 474.09,819.5 474.09,821.7 476,822.8 477.91,821.7 477.91,819.5" fill="#ffd8b0" />
<path d="M474.1,820.6 L474.1,819.5 L476,818.4 L477.9,819.5 L477.9,820.6 Z" fill="#ff7f00"/>
<polygon points="484.4,810.4 482.49,811.5 482.49,813.7 484.4,814.8 486.31,813.7 486.31,811.5" fill="#ffd8b0" />
<path d="M482.5,812.6 L482.5,811.5 L484.4,810.4 L486.3,811.5 L486.3,812.6 Z" fill="#ff7f00"/>
<polygon points="492.9,799.3 490.99,800.4 490.99,802.6 492.9,803.7 494.81,802.6 494.81,800.4" fill="#ffd8b0" />
<path d="M491,801.5 L491,800.4 L492.9,799.3 L494.8,800.4 L494.8,801.5 Z" fill="#ff7f00"/>
<polygon points="501.4,788.7 499.49,789.8 499.49,792 501.4,793.1 503.31,792 503.31,789.8" fill="#ffd8b0" />
<path d="M499.5,790.9 L499.5,789.8 L501.4,788.7 L503.3,789.8 L503.3,790.9 Z" fill="#ff7f00"/>
<polygon points="509.8,781.6 507.89,782.7 507.89,784.9 509.8,786 511.71,784.9 511.71,782.7" fill="#ffd8b0" />
<path d="M507.9,783.8 L507.9,782.7 L509.8,781.6 L511.7,782.7 L511.7,783.8 Z" fill="#ff7f00"/>
<polygon points="517.8,779.2 515.89,780.3 515.89,782.5 517.8,783.6 519.71,782.5 519.71,780.3" fill="#ffd8b0" />
<path d="M515.9,781.4 L515.9,780.3 L517.8,779.2 L519.7,780.3 L519.7,781.4 Z" fill="#ff7f00"/>
<polygon points="526.3,781 524.39,782.1 524.39,784.3 526.3,785.4 528.21,784.3 528.21,782.1" fill="#ffd8b0" />
<path d="M524.4,783.2 L524.4,782.1 L526.3,781 L528.2,782.1 L528.2,783.2 Z" fill="#ff7f00"/>
<polygon points="534.3,786.4 532.39,787.5 532.39,789.7 534.3,790.8 536.21,789.7 536.21,787.5" fill="#ffd8b0" />
<path d="M532.4,788.6 L532.4,787.5 L534.3,786.4 L536.2,787.5 L536.2,788.6 Z" fill="#ff7f00"/>
<polygon points="542.6,795.4 540.69,796.5 540.69,798.7 542.6,799.8 544.51,798.7 544.51,796.5" fill="#ffd8b0" />
<path d="M540.7,797.6 L540.7,796.5 L542.6,795.4 L544.5,796.5 L544.5,797.6 Z" fill="#ff7f00"/>
<polygon points="550.6,804.6 548.69,805.7 548.69,807.9 550.6,809 552.51,807.9 552.51,805.7" fill="#ffd8b0" />
<path d="M548.7,806.8 L548.7,805.7 L550.6,804.6 L552.5,805.7 L552.5,806.8 Z" fill="#ff7f00"/>
<polygon points="559,814.4 557.09,815.5 557.09,817.7 559,818.8 560.91,817.7 560.91,815.5" fill="#ffd8b0" />
<path d="M557.1,816.6 L557.1,815.5 L559,814.4 L560.9,815.5 L560.9,816.6 Z" fill="#ff7f00"/>
<polygon points="567.6,825 565.69,826.1 565.69,828.3 567.6,829.4 569.51,828.3 569.51,826.1" fill="#ffd8b0" />
<path d="M565.7,827.2 L565.7,826.1 L567.6,825 L569.5,826.1 L569.5,827.2 Z" fill="#ff7f00"/>
<polygon points="576,836 574.09,837.1 574.09,839.3 576,840.4 577.91,839.3 577.91,837.1" fill="#ffd8b0" />
<path d="M574.1,838.2 L574.1,837.1 L576,836 L577.9,837.1 L577.9,838.2 Z" fill="#ff7f00"/>
<polygon points="584.6,847.4 582.69,848.5 582.69,850.7 584.6,851.8 586.51,850.7 586.51,848.5" fill="#ffd8b0" />
<path d="M582.7,849.6 L582.7,848.5 L584.6,847.4 L586.5,848.5 L586.5,849.6 Z" fill="#ff7f00"/>
<polygon points="593,858 591.09,859.1 591.09,861.3 593,862.4 594.91,861.3 594.91,859.1" fill="#ffd8b0" />
<path d="M591.1,860.2 L591.1,859.1 L593,858 L594.9,859.1 L594.9,860.2 Z" fill="#ff7f00"/>
<polygon points="601.4,868.4 599.49,869.5 599.49,871.7 601.4,872.8 603.31,871.7 603.31,869.5" fill="#ffd8b0" />
<path d="M599.5,870.6 L599.5,869.5 L601.4,868.4 L603.3,869.5 L603.3,870.6 Z" fill="#ff7f00"/>
<polygon points="610,879 608.09,880.1 608.09,882.3 610,883.4 611.91,882.3 611.91,880.1" fill="#ffd8b0" />
<path d="M608.1,881.2 L608.1,880.1 L610,879 L611.9,880.1 L611.9,881.2 Z" fill="#ff7f00"/>
<polygon points="618.4,888.4 616.49,889.5 616.49,891.7 618.4,892.8 620.31,891.7 620.31,889.5" fill="#ffd8b0" />
<path d="M616.5,890.6 L616.5,889.5 L618.4,888.4 L620.3,889.5 L620.3,890.6 Z" fill="#ff7f00"/>
<polygon points="626.6,897.4 624.69,898.5 624.69,900.7 626.6,901.8 628.51,900.7 628.51,898.5" fill="#ffd8b0" />
<path d="M624.7,899.6 L624.7,898.5 L626.6,897.4 L628.5,898.5 L628.5,899.6 Z" fill="#ff7f00"/>
<polygon points="635,906 633.09,907.1 633.09,909.3 635,910.4 636.91,909.3 636.91,907.1" fill="#ffd8b0" />
<path d="M633.1,908.2 L633.1,907.1 L635,906 L636.9,907.1 L636.9,908.2 Z" fill="#ff7f00"/>
<polygon points="643.4,913.4 641.49,914.5 641.49,916.7 643.4,917.8 645.31,916.7 645.31,914.5" fill="#ffd8b0" />
<path d="M641.5,915.6 L641.5,914.5 L643.4,913.4 L645.3,914.5 L645.3,915.6 Z" fill="#ff7f00"/>
<polygon points="652,919.4 650.09,920.5 650.09,922.7 652,923.8 653.91,922.7 653.91,920.5" fill="#ffd8b0" />
<path d="M650.1,921.6 L650.1,920.5 L652,919.4 L653.9,920.5 L653.9,921.6 Z" fill="#ff7f00"/>
<polygon points="660.6,925 658.69,926.1 658.69,928.3 660.6,929.4 662.51,928.3 662.51,926.1" fill="#ffd8b0" />
<path d="M658.7,927.2 L658.7,926.1 L660.6,925 L662.5,926.1 L662.5,927.2 Z" fill="#ff7f00"/>
<circle cx="425" cy="758.3" r="2.1" fill="#cfe8cf"/>
<path d="M422.9,758.3 A2.1,2.1 0 0 1 427.1,758.3 Z" fill="#0f800f"/>
<circle cx="432.4" cy="777" r="2.1" fill="#cfe8cf"/>
<path d="M430.3,777 A2.1,2.1 0 0 1 434.5,777 Z" fill="#0f800f"/>
<circle cx="441" cy="794.8" r="2.1" fill="#cfe8cf"/>
<path d="M438.9,794.8 A2.1,2.1 0 0 1 443.1,794.8 Z" fill="#0f800f"/>
<circle cx="449.3" cy="810.4" r="2.1" fill="#cfe8cf"/>
<path d="M447.2,810.4 A2.1,2.1 0 0 1 451.4,810.4 Z" fill="#0f800f"/>
<circle cx="457.7" cy="821.4" r="2.1" fill="#cfe8cf"/>
<path d="M455.6,821.4 A2.1,2.1 0 0 1 459.8,821.4 Z" fill="#0f800f"/>
<circle cx="466.2" cy="825.9" r="2.1" fill="#cfe8cf"/>
<path d="M464.1,825.9 A2.1,2.1 0 0 1 468.3,825.9 Z" fill="#0f800f"/>
<circle cx="474.8" cy="823.2" r="2.1" fill="#cfe8cf"/>
<path d="M472.7,823.2 A2.1,2.1 0 0 1 476.9,823.2 Z" fill="#0f800f"/>
<circle cx="483.1" cy="814.3" r="2.1" fill="#cfe8cf"/>
<path d="M481,814.3 A2.1,2.1 0 0 1 485.2,814.3 Z" fill="#0f800f"/>
<circle cx="491.6" cy="802.8" r="2.1" fill="#cfe8cf"/>
<path d="M489.5,802.8 A2.1,2.1 0 0 1 493.7,802.8 Z" fill="#0f800f"/>
<circle cx="500" cy="791.8" r="2.1" fill="#cfe8cf"/>
<path d="M497.9,791.8 A2.1,2.1 0 0 1 502.1,791.8 Z" fill="#0f800f"/>
<circle cx="508.4" cy="783.8" r="2.1" fill="#cfe8cf"/>
<path d="M506.3,783.8 A2.1,2.1 0 0 1 510.5,783.8 Z" fill="#0f800f"/>
<circle cx="516.4" cy="780.6" r="2.1" fill="#cfe8cf"/>
<path d="M514.3,780.6 A2.1,2.1 0 0 1 518.5,780.6 Z" fill="#0f800f"/>
<circle cx="524.9" cy="782.3" r="2.1" fill="#cfe8cf"/>
<path d="M522.8,782.3 A2.1,2.1 0 0 1 527,782.3 Z" fill="#0f800f"/>
<circle cx="533.2" cy="787.7" r="2.1" fill="#cfe8cf"/>
<path d="M531.1,787.7 A2.1,2.1 0 0 1 535.3,787.7 Z" fill="#0f800f"/>
<circle cx="541.6" cy="795.4" r="2.1" fill="#cfe8cf"/>
<path d="M539.5,795.4 A2.1,2.1 0 0 1 543.7,795.4 Z" fill="#0f800f"/>
<circle cx="549.6" cy="804.6" r="2.1" fill="#cfe8cf"/>
<path d="M547.5,804.6 A2.1,2.1 0 0 1 551.7,804.6 Z" fill="#0f800f"/>
<circle cx="558" cy="814.4" r="2.1" fill="#cfe8cf"/>
<path d="M555.9,814.4 A2.1,2.1 0 0 1 560.1,814.4 Z" fill="#0f800f"/>
<circle cx="566.6" cy="825" r="2.1" fill="#cfe8cf"/>
<path d="M564.5,825 A2.1,2.1 0 0 1 568.7,825 Z" fill="#0f800f"/>
<circle cx="575" cy="836" r="2.1" fill="#cfe8cf"/>
<path d="M572.9,836 A2.1,2.1 0 0 1 577.1,836 Z" fill="#0f800f"/>
<circle cx="583.6" cy="847.4" r="2.1" fill="#cfe8cf"/>
<path d="M581.5,847.4 A2.1,2.1 0 0 1 585.7,847.4 Z" fill="#0f800f"/>
<circle cx="592" cy="858" r="2.1" fill="#cfe8cf"/>
<path d="M589.9,858 A2.1,2.1 0 0 1 594.1,858 Z" fill="#0f800f"/>
<circle cx="600.4" cy="868.4" r="2.1" fill="#cfe8cf"/>
<path d="M598.3,868.4 A2.1,2.1 0 0 1 602.5,868.4 Z" fill="#0f800f"/>
<circle cx="609" cy="879" r="2.1" fill="#cfe8cf"/>
<path d="M606.9,879 A2.1,2.1 0 0 1 611.1,879 Z" fill="#0f800f"/>
<circle cx="617.4" cy="888.4" r="2.1" fill="#cfe8cf"/>
<path d="M615.3,888.4 A2.1,2.1 0 0 1 619.5,888.4 Z" fill="#0f800f"/>
<circle cx="625.6" cy="897.4" r="2.1" fill="#cfe8cf"/>
<path d="M623.5,897.4 A2.1,2.1 0 0 1 627.7,897.4 Z" fill="#0f800f"/>
<circle cx="634" cy="906" r="2.1" fill="#cfe8cf"/>
<path d="M631.9,906 A2.1,2.1 0 0 1 636.1,906 Z" fill="#0f800f"/>
<circle cx="642.4" cy="913.4" r="2.1" fill="#cfe8cf"/>
<path d="M640.3,913.4 A2.1,2.1 0 0 1 644.5,913.4 Z" fill="#0f800f"/>
<circle cx="651" cy="919.4" r="2.1" fill="#cfe8cf"/>
<path d="M648.9,919.4 A2.1,2.1 0 0 1 653.1,919.4 Z" fill="#0f800f"/>
<circle cx="659.6" cy="925" r="2.1" fill="#cfe8cf"/>
<path d="M657.5,925 A2.1,2.1 0 0 1 661.7,925 Z" fill="#0f800f"/>
<polygon points="422.4,766.05 426.4,766.05 424.4,762.35" fill="#ff33ff" />
<polygon points="430.1,785.05 434.1,785.05 432.1,781.35" fill="#ff33ff" />
<polygon points="438.4,802.85 442.4,802.85 440.4,799.15" fill="#ff33ff" />
<polygon points="446.8,817.95 450.8,817.95 448.8,814.25" fill="#ff33ff" />
<polygon points="455.3,828.65 459.3,828.65 457.3,824.95" fill="#ff33ff" />
<polygon points="463.9,832.15 467.9,832.15 465.9,828.45" fill="#ff33ff" />
<polygon points="472.2,828.25 476.2,828.25 474.2,824.55" fill="#ff33ff" />
<polygon points="480.6,818.85 484.6,818.85 482.6,815.15" fill="#ff33ff" />
<polygon points="489.1,807.25 493.1,807.25 491.1,803.55" fill="#ff33ff" />
<polygon points="497.5,794.85 501.5,794.85 499.5,791.15" fill="#ff33ff" />
<polygon points="506,786.85 510,786.85 508,783.15" fill="#ff33ff" />
<polygon points="514,783.25 518,783.25 516,779.55" fill="#ff33ff" />
<polygon points="522.5,784.75 526.5,784.75 524.5,781.05" fill="#ff33ff" />
<polygon points="530.9,790.45 534.9,790.45 532.9,786.75" fill="#ff33ff" />
<polygon points="539.8,799.05 543.8,799.05 541.8,795.35" fill="#ff33ff" />
<polygon points="547.8,808.25 551.8,808.25 549.8,804.55" fill="#ff33ff" />
<polygon points="556.2,818.05 560.2,818.05 558.2,814.35" fill="#ff33ff" />
<polygon points="564.8,828.65 568.8,828.65 566.8,824.95" fill="#ff33ff" />
<polygon points="573.2,839.65 577.2,839.65 575.2,835.95" fill="#ff33ff" />
<polygon points="581.8,851.05 585.8,851.05 583.8,847.35" fill="#ff33ff" />
<polygon points="590.2,861.65 594.2,861.65 592.2,857.95" fill="#ff33ff" />
<polygon points="598.6,872.05 602.6,872.05 600.6,868.35" fill="#ff33ff" />
<polygon points="607.2,882.65 611.2,882.65 609.2,878.95" fill="#ff33ff" />
<polygon points="615.6,892.05 619.6,892.05 617.6,888.35" fill="#ff33ff" />
<polygon points="623.8,901.05 627.8,901.05 625.8,897.35" fill="#ff33ff" />
<polygon points="632.2,909.65 636.2,909.65 634.2,905.95" fill="#ff33ff" />
<polygon points="640.6,917.05 644.6,917.05 642.6,913.35" fill="#ff33ff" />
<polygon points="649.2,923.05 653.2,923.05 651.2,919.35" fill="#ff33ff" />
<polygon points="657.8,928.65 661.8,928.65 659.8,924.95" fill="#ff33ff" />
</g>
<line x1="544.4" y1="742.8" x2="544.4" y2="746.5" stroke="#555" stroke-width="1" />
<rect x="480.1" y="866.1" width="8.6" height="8.4" fill="#fff" stroke="#555" stroke-width="1.1"/>
<rect x="480.1" y="866.1" width="8.6" height="4.2" fill="#444"/>
<circle cx="484.1" cy="884.9" r="4.5" fill="#fff" stroke="#008000" stroke-width="1.1"/>
<path d="M479.6,884.9 A4.5,4.5 0 0 1 488.6,884.9 Z" fill="#008000"/>
<polygon points="484.3,893.8 489.6,902.5 479,902.5" fill="#fff" stroke="#ff00ff" stroke-width="1.1"/>
<polygon points="484.3,893.8 487,898.2 481.6,898.2" fill="#ff00ff" />
<polygon points="484.1,909.2 479.86,911.65 479.86,916.55 484.1,919 488.34,916.55 488.34,911.65" fill="#fff" stroke="#ff7f00" stroke-width="1.1"/>
<path d="M479.9,914.1 L479.9,911.65 L484.1,909.2 L488.3,911.65 L488.3,914.1 Z" fill="#ff7f00"/>
<text x="500.9" y="801.74" transform="scale(1,1.09)" font-size="11.9">261 K, 10<tspan font-size="7.5" dy="-3.94">-4</tspan><tspan dy="3.94">GPa</tspan></text>
<text x="500.9" y="815.60" transform="scale(1,1.09)" font-size="11.9" fill="#000" text-anchor="start" >284 K, 0.2 GPa</text>
<text x="500.9" y="828.35" transform="scale(1,1.09)" font-size="11.9" fill="#000" text-anchor="start" >304 K, 0.4 GPa</text>
<text x="500.9" y="841.65" transform="scale(1,1.09)" font-size="11.9" fill="#000" text-anchor="start" >320 K, 0.6 GPa</text>
</svg>
</body></html>
